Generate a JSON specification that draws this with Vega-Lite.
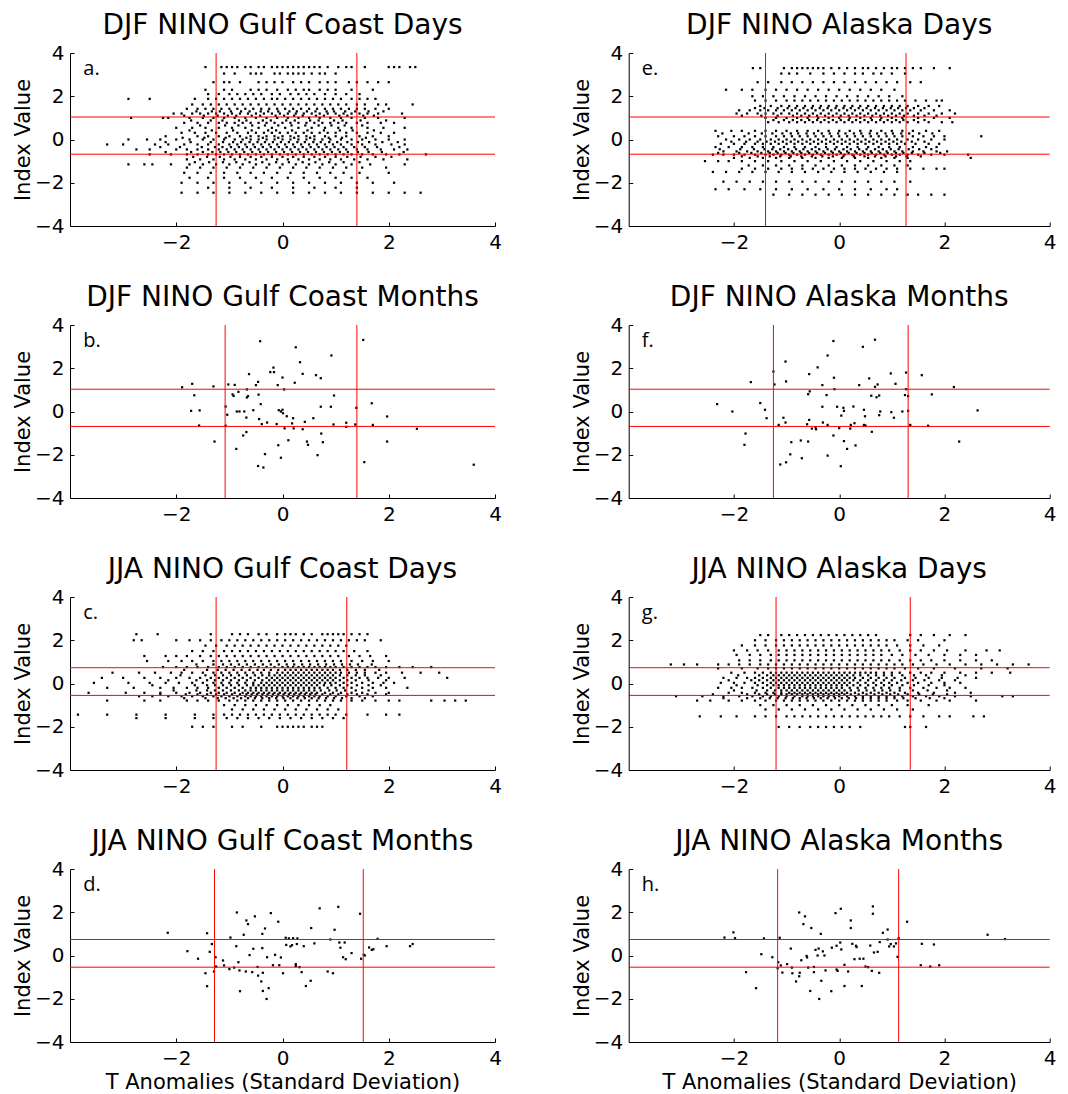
{
"$schema":"https://vega.github.io/schema/vega-lite/v6.json",
"background":"white",
"padding":{"left":12,"top":12,"right":0,"bottom":0},
"bounds":"flush",
"columns":2,
"spacing":{"row":99,"column":133.7},
"config":{
"view":{"stroke":null},
"title":{"font":"DejaVu Sans","fontSize":28,"fontWeight":"normal","color":"#000","baseline":"alphabetic","offset":3,"frame":"group","anchor":"middle"},
"axis":{"labelFont":"DejaVu Sans","labelFontSize":20,"labelColor":"#000","titleFont":"DejaVu Sans","titleFontWeight":"normal","titleColor":"#000","domainColor":"#000","domainWidth":1,"tickColor":"#000","tickSize":-4,"grid":false,"labelFlush":false,"labelOverlap":false},
"axisX":{"labelPadding":10,"titleFontSize":21,"titlePadding":3},
"axisY":{"labelPadding":10,"titleFontSize":21,"titlePadding":1},
"square":{"size":5,"color":"#000","opacity":1},
"rule":{"color":"#ff0000","strokeWidth":1},
"text":{"font":"Open Sans","fontSize":20,"align":"left","baseline":"alphabetic","color":"#000"}
},
"datasets":{
"a":[
{"x":-1.45,"y":3.35},{"x":-1.15,"y":3.35},{"x":-1.05,"y":3.35},{"x":-0.95,"y":3.35},{"x":-0.85,"y":3.35},{"x":-0.7,"y":3.35},{"x":-0.6,"y":3.35},{"x":-0.45,"y":3.35},{"x":-0.35,"y":3.35},{"x":-0.2,"y":3.35},{"x":-0.1,"y":3.35},{"x":0.0,"y":3.35},{"x":0.1,"y":3.35},{"x":0.2,"y":3.35},{"x":0.3,"y":3.35},{"x":0.4,"y":3.35},{"x":0.5,"y":3.35},{"x":0.6,"y":3.35},{"x":0.7,"y":3.35},{"x":0.85,"y":3.35},{"x":1.05,"y":3.35},{"x":1.2,"y":3.35},{"x":1.3,"y":3.35},{"x":1.55,"y":3.35},{"x":2.0,"y":3.35},{"x":2.1,"y":3.35},{"x":2.2,"y":3.35},{"x":2.4,"y":3.35},{"x":2.5,"y":3.35},
{"x":-1.1,"y":3.05},{"x":-0.9,"y":3.05},{"x":-0.6,"y":3.05},{"x":-0.5,"y":3.05},{"x":-0.4,"y":3.05},{"x":-0.15,"y":3.05},{"x":-0.05,"y":3.05},{"x":0.1,"y":3.05},{"x":0.2,"y":3.05},{"x":0.3,"y":3.05},{"x":0.4,"y":3.05},{"x":0.55,"y":3.05},{"x":0.7,"y":3.05},{"x":0.8,"y":3.05},{"x":1.0,"y":3.05},
{"x":-1.3,"y":2.65},{"x":-1.1,"y":2.65},{"x":-1.0,"y":2.65},{"x":-0.8,"y":2.65},{"x":-0.45,"y":2.65},{"x":-0.3,"y":2.65},{"x":-0.15,"y":2.65},{"x":0.0,"y":2.65},{"x":0.2,"y":2.65},{"x":0.35,"y":2.65},{"x":0.5,"y":2.65},{"x":0.7,"y":2.65},{"x":0.85,"y":2.65},{"x":1.0,"y":2.65},{"x":1.25,"y":2.65},{"x":1.4,"y":2.65},{"x":1.6,"y":2.65},{"x":1.8,"y":2.65},{"x":2.0,"y":2.65},
{"x":-1.45,"y":2.3},{"x":-1.1,"y":2.3},{"x":-0.95,"y":2.3},{"x":-0.6,"y":2.3},{"x":-0.45,"y":2.3},{"x":-0.3,"y":2.3},{"x":-0.1,"y":2.3},{"x":0.1,"y":2.3},{"x":0.25,"y":2.3},{"x":0.4,"y":2.3},{"x":0.5,"y":2.3},{"x":0.7,"y":2.3},{"x":0.85,"y":2.3},{"x":1.0,"y":2.3},{"x":1.3,"y":2.3},{"x":1.7,"y":2.3},
{"x":-1.4,"y":2.1},{"x":-1.2,"y":2.1},{"x":-1.0,"y":2.1},{"x":-0.85,"y":2.1},{"x":-0.7,"y":2.1},{"x":-0.55,"y":2.1},{"x":-0.4,"y":2.1},{"x":-0.2,"y":2.1},{"x":-0.05,"y":2.1},{"x":0.15,"y":2.1},{"x":0.3,"y":2.1},{"x":0.45,"y":2.1},{"x":0.6,"y":2.1},{"x":0.8,"y":2.1},{"x":1.0,"y":2.1},{"x":1.2,"y":2.1},{"x":1.45,"y":2.1},
{"x":-2.9,"y":1.88},{"x":-2.5,"y":1.88},{"x":-1.65,"y":1.88},{"x":-1.4,"y":1.88},{"x":-1.25,"y":1.88},{"x":-1.1,"y":1.88},{"x":-0.95,"y":1.88},{"x":-0.8,"y":1.88},{"x":-0.65,"y":1.88},{"x":-0.5,"y":1.88},{"x":-0.35,"y":1.88},{"x":-0.2,"y":1.88},{"x":-0.1,"y":1.88},{"x":0.05,"y":1.88},{"x":0.2,"y":1.88},{"x":0.35,"y":1.88},{"x":0.5,"y":1.88},{"x":0.65,"y":1.88},{"x":0.8,"y":1.88},{"x":0.95,"y":1.88},{"x":1.1,"y":1.88},{"x":1.3,"y":1.88},{"x":1.45,"y":1.88},{"x":1.6,"y":1.88},{"x":1.75,"y":1.88},
{"x":-1.7,"y":1.62},{"x":-1.5,"y":1.62},{"x":-1.35,"y":1.62},{"x":-1.2,"y":1.62},{"x":-1.05,"y":1.62},{"x":-0.9,"y":1.62},{"x":-0.75,"y":1.62},{"x":-0.6,"y":1.62},{"x":-0.45,"y":1.62},{"x":-0.3,"y":1.62},{"x":-0.15,"y":1.62},{"x":0.0,"y":1.62},{"x":0.15,"y":1.62},{"x":0.3,"y":1.62},{"x":0.45,"y":1.62},{"x":0.6,"y":1.62},{"x":0.75,"y":1.62},{"x":0.9,"y":1.62},{"x":1.05,"y":1.62},{"x":1.2,"y":1.62},{"x":1.4,"y":1.62},{"x":1.55,"y":1.62},{"x":1.8,"y":1.62},{"x":1.95,"y":1.62},{"x":2.45,"y":1.62},
{"x":-1.8,"y":1.42},{"x":-1.6,"y":1.42},{"x":-1.45,"y":1.42},{"x":-1.3,"y":1.42},{"x":-1.15,"y":1.42},{"x":-1.0,"y":1.42},{"x":-0.85,"y":1.42},{"x":-0.7,"y":1.42},{"x":-0.55,"y":1.42},{"x":-0.4,"y":1.42},{"x":-0.25,"y":1.42},{"x":-0.1,"y":1.42},{"x":0.05,"y":1.42},{"x":0.2,"y":1.42},{"x":0.35,"y":1.42},{"x":0.5,"y":1.42},{"x":0.65,"y":1.42},{"x":0.8,"y":1.42},{"x":0.95,"y":1.42},{"x":1.1,"y":1.42},{"x":1.25,"y":1.42},{"x":1.4,"y":1.42},{"x":1.55,"y":1.42},{"x":1.75,"y":1.42},{"x":2.0,"y":1.42},
{"x":-2.05,"y":1.2},{"x":-1.9,"y":1.2},{"x":-1.7,"y":1.2},{"x":-1.55,"y":1.2},{"x":-1.4,"y":1.2},{"x":-1.25,"y":1.2},{"x":-1.1,"y":1.2},{"x":-0.95,"y":1.2},{"x":-0.8,"y":1.2},{"x":-0.65,"y":1.2},{"x":-0.5,"y":1.2},{"x":-0.35,"y":1.2},{"x":-0.2,"y":1.2},{"x":-0.05,"y":1.2},{"x":0.1,"y":1.2},{"x":0.25,"y":1.2},{"x":0.4,"y":1.2},{"x":0.55,"y":1.2},{"x":0.7,"y":1.2},{"x":0.85,"y":1.2},{"x":1.0,"y":1.2},{"x":1.15,"y":1.2},{"x":1.3,"y":1.2},{"x":1.45,"y":1.2},{"x":1.6,"y":1.2},{"x":1.8,"y":1.2},{"x":2.25,"y":1.2},
{"x":-2.85,"y":1.0},{"x":-2.25,"y":1.0},{"x":-2.15,"y":1.0},{"x":-1.75,"y":1.0},{"x":-1.5,"y":1.0},{"x":-1.3,"y":1.0},{"x":-1.1,"y":1.0},{"x":-0.9,"y":1.0},{"x":-0.7,"y":1.0},{"x":-0.5,"y":1.0},{"x":-0.3,"y":1.0},{"x":-0.1,"y":1.0},{"x":0.1,"y":1.0},{"x":0.3,"y":1.0},{"x":0.5,"y":1.0},{"x":0.7,"y":1.0},{"x":0.9,"y":1.0},{"x":1.1,"y":1.0},{"x":1.3,"y":1.0},{"x":1.55,"y":1.0},{"x":1.8,"y":1.0},{"x":2.3,"y":1.0},
{"x":-1.85,"y":0.77},{"x":-1.6,"y":0.77},{"x":-1.4,"y":0.77},{"x":-1.2,"y":0.77},{"x":-1.05,"y":0.77},{"x":-0.9,"y":0.77},{"x":-0.75,"y":0.77},{"x":-0.6,"y":0.77},{"x":-0.45,"y":0.77},{"x":-0.3,"y":0.77},{"x":-0.15,"y":0.77},{"x":0.0,"y":0.77},{"x":0.15,"y":0.77},{"x":0.3,"y":0.77},{"x":0.45,"y":0.77},{"x":0.6,"y":0.77},{"x":0.75,"y":0.77},{"x":0.9,"y":0.77},{"x":1.05,"y":0.77},{"x":1.2,"y":0.77},{"x":1.4,"y":0.77},{"x":1.6,"y":0.77},{"x":1.85,"y":0.77},{"x":2.1,"y":0.77},
{"x":-2.0,"y":0.54},{"x":-1.7,"y":0.54},{"x":-1.45,"y":0.54},{"x":-1.2,"y":0.54},{"x":-0.95,"y":0.54},{"x":-0.7,"y":0.54},{"x":-0.45,"y":0.54},{"x":-0.2,"y":0.54},{"x":0.05,"y":0.54},{"x":0.3,"y":0.54},{"x":0.55,"y":0.54},{"x":0.8,"y":0.54},{"x":1.05,"y":0.54},{"x":1.3,"y":0.54},{"x":1.6,"y":0.54},{"x":1.9,"y":0.54},{"x":2.3,"y":0.54},
{"x":-1.9,"y":0.31},{"x":-1.65,"y":0.31},{"x":-1.45,"y":0.31},{"x":-1.25,"y":0.31},{"x":-1.05,"y":0.31},{"x":-0.85,"y":0.31},{"x":-0.65,"y":0.31},{"x":-0.5,"y":0.31},{"x":-0.35,"y":0.31},{"x":-0.2,"y":0.31},{"x":-0.05,"y":0.31},{"x":0.1,"y":0.31},{"x":0.25,"y":0.31},{"x":0.4,"y":0.31},{"x":0.55,"y":0.31},{"x":0.7,"y":0.31},{"x":0.85,"y":0.31},{"x":1.0,"y":0.31},{"x":1.2,"y":0.31},{"x":1.4,"y":0.31},{"x":1.6,"y":0.31},{"x":1.85,"y":0.31},{"x":2.1,"y":0.31},
{"x":-2.2,"y":0.15},{"x":-1.6,"y":0.15},{"x":-1.4,"y":0.15},{"x":-1.2,"y":0.15},{"x":-1.0,"y":0.15},{"x":-0.8,"y":0.15},{"x":-0.6,"y":0.15},{"x":-0.45,"y":0.15},{"x":-0.3,"y":0.15},{"x":-0.15,"y":0.15},{"x":0.0,"y":0.15},{"x":0.15,"y":0.15},{"x":0.3,"y":0.15},{"x":0.45,"y":0.15},{"x":0.6,"y":0.15},{"x":0.8,"y":0.15},{"x":1.0,"y":0.15},{"x":1.2,"y":0.15},{"x":1.45,"y":0.15},{"x":1.7,"y":0.15},{"x":2.0,"y":0.15},
{"x":-2.9,"y":0.0},{"x":-2.55,"y":0.0},{"x":-2.3,"y":0.0},{"x":-2.0,"y":0.0},{"x":-1.75,"y":0.0},{"x":-1.5,"y":0.0},{"x":-1.3,"y":0.0},{"x":-1.1,"y":0.0},{"x":-0.9,"y":0.0},{"x":-0.75,"y":0.0},{"x":-0.6,"y":0.0},{"x":-0.45,"y":0.0},{"x":-0.3,"y":0.0},{"x":-0.15,"y":0.0},{"x":0.0,"y":0.0},{"x":0.15,"y":0.0},{"x":0.3,"y":0.0},{"x":0.45,"y":0.0},{"x":0.6,"y":0.0},{"x":0.75,"y":0.0},{"x":0.9,"y":0.0},{"x":1.1,"y":0.0},{"x":1.3,"y":0.0},{"x":1.5,"y":0.0},{"x":1.75,"y":0.0},{"x":2.0,"y":0.0},{"x":2.3,"y":0.0},
{"x":-3.3,"y":-0.23},{"x":-3.0,"y":-0.23},{"x":-2.4,"y":-0.23},{"x":-2.15,"y":-0.23},{"x":-1.85,"y":-0.23},{"x":-1.6,"y":-0.23},{"x":-1.4,"y":-0.23},{"x":-1.2,"y":-0.23},{"x":-1.0,"y":-0.23},{"x":-0.85,"y":-0.23},{"x":-0.7,"y":-0.23},{"x":-0.55,"y":-0.23},{"x":-0.4,"y":-0.23},{"x":-0.25,"y":-0.23},{"x":-0.1,"y":-0.23},{"x":0.05,"y":-0.23},{"x":0.2,"y":-0.23},{"x":0.35,"y":-0.23},{"x":0.5,"y":-0.23},{"x":0.65,"y":-0.23},{"x":0.8,"y":-0.23},{"x":0.95,"y":-0.23},{"x":1.1,"y":-0.23},{"x":1.3,"y":-0.23},{"x":1.5,"y":-0.23},{"x":1.75,"y":-0.23},{"x":2.05,"y":-0.23},{"x":2.3,"y":-0.23},
{"x":-2.75,"y":-0.46},{"x":-2.5,"y":-0.46},{"x":-2.0,"y":-0.46},{"x":-1.8,"y":-0.46},{"x":-1.6,"y":-0.46},{"x":-1.4,"y":-0.46},{"x":-1.2,"y":-0.46},{"x":-1.05,"y":-0.46},{"x":-0.9,"y":-0.46},{"x":-0.75,"y":-0.46},{"x":-0.6,"y":-0.46},{"x":-0.45,"y":-0.46},{"x":-0.3,"y":-0.46},{"x":-0.15,"y":-0.46},{"x":0.0,"y":-0.46},{"x":0.15,"y":-0.46},{"x":0.3,"y":-0.46},{"x":0.45,"y":-0.46},{"x":0.6,"y":-0.46},{"x":0.75,"y":-0.46},{"x":0.9,"y":-0.46},{"x":1.05,"y":-0.46},{"x":1.2,"y":-0.46},{"x":1.4,"y":-0.46},{"x":1.6,"y":-0.46},{"x":1.85,"y":-0.46},{"x":2.1,"y":-0.46},{"x":2.35,"y":-0.46},
{"x":-2.5,"y":-0.69},{"x":-2.1,"y":-0.69},{"x":-1.8,"y":-0.69},{"x":-1.6,"y":-0.69},{"x":-1.4,"y":-0.69},{"x":-1.25,"y":-0.69},{"x":-1.1,"y":-0.69},{"x":-0.95,"y":-0.69},{"x":-0.8,"y":-0.69},{"x":-0.65,"y":-0.69},{"x":-0.5,"y":-0.69},{"x":-0.35,"y":-0.69},{"x":-0.2,"y":-0.69},{"x":-0.05,"y":-0.69},{"x":0.1,"y":-0.69},{"x":0.25,"y":-0.69},{"x":0.4,"y":-0.69},{"x":0.55,"y":-0.69},{"x":0.7,"y":-0.69},{"x":0.85,"y":-0.69},{"x":1.0,"y":-0.69},{"x":1.15,"y":-0.69},{"x":1.3,"y":-0.69},{"x":1.5,"y":-0.69},{"x":1.7,"y":-0.69},{"x":1.95,"y":-0.69},{"x":2.2,"y":-0.69},{"x":2.7,"y":-0.69},
{"x":-1.8,"y":-0.92},{"x":-1.55,"y":-0.92},{"x":-1.3,"y":-0.92},{"x":-1.1,"y":-0.92},{"x":-0.9,"y":-0.92},{"x":-0.7,"y":-0.92},{"x":-0.5,"y":-0.92},{"x":-0.3,"y":-0.92},{"x":-0.1,"y":-0.92},{"x":0.1,"y":-0.92},{"x":0.3,"y":-0.92},{"x":0.5,"y":-0.92},{"x":0.7,"y":-0.92},{"x":0.9,"y":-0.92},{"x":1.1,"y":-0.92},{"x":1.35,"y":-0.92},{"x":1.6,"y":-0.92},{"x":1.9,"y":-0.92},{"x":2.35,"y":-0.92},
{"x":-2.9,"y":-1.15},{"x":-2.6,"y":-1.15},{"x":-2.45,"y":-1.15},{"x":-2.1,"y":-1.15},{"x":-1.75,"y":-1.15},{"x":-1.5,"y":-1.15},{"x":-1.25,"y":-1.15},{"x":-1.0,"y":-1.15},{"x":-0.75,"y":-1.15},{"x":-0.5,"y":-1.15},{"x":-0.25,"y":-1.15},{"x":0.0,"y":-1.15},{"x":0.25,"y":-1.15},{"x":0.5,"y":-1.15},{"x":0.75,"y":-1.15},{"x":1.0,"y":-1.15},{"x":1.3,"y":-1.15},{"x":1.65,"y":-1.15},{"x":2.3,"y":-1.15},
{"x":-1.8,"y":-1.3},{"x":-1.55,"y":-1.3},{"x":-1.3,"y":-1.3},{"x":-1.05,"y":-1.3},{"x":-0.8,"y":-1.3},{"x":-0.55,"y":-1.3},{"x":-0.3,"y":-1.3},{"x":-0.05,"y":-1.3},{"x":0.2,"y":-1.3},{"x":0.45,"y":-1.3},{"x":0.7,"y":-1.3},{"x":0.95,"y":-1.3},{"x":1.2,"y":-1.3},{"x":1.5,"y":-1.3},{"x":1.95,"y":-1.3},
{"x":-1.85,"y":-1.54},{"x":-1.6,"y":-1.54},{"x":-1.35,"y":-1.54},{"x":-1.1,"y":-1.54},{"x":-0.85,"y":-1.54},{"x":-0.6,"y":-1.54},{"x":-0.35,"y":-1.54},{"x":-0.1,"y":-1.54},{"x":0.15,"y":-1.54},{"x":0.4,"y":-1.54},{"x":0.65,"y":-1.54},{"x":0.9,"y":-1.54},{"x":1.15,"y":-1.54},{"x":1.45,"y":-1.54},{"x":2.0,"y":-1.54},
{"x":-1.75,"y":-1.77},{"x":-1.4,"y":-1.77},{"x":-1.1,"y":-1.77},{"x":-0.8,"y":-1.77},{"x":-0.5,"y":-1.77},{"x":-0.2,"y":-1.77},{"x":0.1,"y":-1.77},{"x":0.4,"y":-1.77},{"x":0.7,"y":-1.77},{"x":1.0,"y":-1.77},{"x":1.3,"y":-1.77},{"x":1.6,"y":-1.77},
{"x":-1.9,"y":-2.0},{"x":-1.6,"y":-2.0},{"x":-1.3,"y":-2.0},{"x":-1.0,"y":-2.0},{"x":-0.7,"y":-2.0},{"x":-0.4,"y":-2.0},{"x":-0.1,"y":-2.0},{"x":0.2,"y":-2.0},{"x":0.5,"y":-2.0},{"x":0.8,"y":-2.0},{"x":1.1,"y":-2.0},{"x":1.4,"y":-2.0},{"x":1.7,"y":-2.0},{"x":2.1,"y":-2.0},
{"x":-1.4,"y":-2.23},{"x":-1.0,"y":-2.23},{"x":-0.6,"y":-2.23},{"x":-0.2,"y":-2.23},{"x":0.2,"y":-2.23},{"x":0.6,"y":-2.23},{"x":1.0,"y":-2.23},{"x":1.4,"y":-2.23},
{"x":-1.9,"y":-2.46},{"x":-1.6,"y":-2.46},{"x":-1.3,"y":-2.46},{"x":-1.0,"y":-2.46},{"x":-0.7,"y":-2.46},{"x":-0.4,"y":-2.46},{"x":-0.1,"y":-2.46},{"x":0.2,"y":-2.46},{"x":0.5,"y":-2.46},{"x":0.8,"y":-2.46},{"x":1.1,"y":-2.46},{"x":1.4,"y":-2.46},{"x":1.7,"y":-2.46},{"x":2.0,"y":-2.46},{"x":2.3,"y":-2.46},{"x":2.6,"y":-2.46},
{"x":-1.62,"y":1.3},{"x":-1.33,"y":1.3},{"x":-1.18,"y":1.3},{"x":-0.97,"y":1.3},{"x":-0.78,"y":1.3},{"x":-0.62,"y":1.3},{"x":-0.41,"y":1.3},{"x":-0.27,"y":1.3},{"x":-0.08,"y":1.3},{"x":0.13,"y":1.3},{"x":0.27,"y":1.3},{"x":0.46,"y":1.3},{"x":0.62,"y":1.3},{"x":0.83,"y":1.3},{"x":0.97,"y":1.3},{"x":1.18,"y":1.3},{"x":1.37,"y":1.3},{"x":1.62,"y":1.3},{"x":1.9,"y":1.3},
{"x":-1.85,"y":1.1},{"x":-1.48,"y":1.1},{"x":-1.22,"y":1.1},{"x":-1.03,"y":1.1},{"x":-0.87,"y":1.1},{"x":-0.58,"y":1.1},{"x":-0.42,"y":1.1},{"x":-0.13,"y":1.1},{"x":0.03,"y":1.1},{"x":0.22,"y":1.1},{"x":0.38,"y":1.1},{"x":0.63,"y":1.1},{"x":0.78,"y":1.1},{"x":1.07,"y":1.1},{"x":1.22,"y":1.1},{"x":1.52,"y":1.1},{"x":1.72,"y":1.1},
{"x":-1.72,"y":0.88},{"x":-1.35,"y":0.88},{"x":-1.13,"y":0.88},{"x":-0.82,"y":0.88},{"x":-0.68,"y":0.88},{"x":-0.37,"y":0.88},{"x":-0.22,"y":0.88},{"x":0.07,"y":0.88},{"x":0.23,"y":0.88},{"x":0.52,"y":0.88},{"x":0.68,"y":0.88},{"x":0.97,"y":0.88},{"x":1.13,"y":0.88},{"x":1.47,"y":0.88},{"x":1.95,"y":0.88},
{"x":-1.55,"y":0.65},{"x":-1.08,"y":0.65},{"x":-0.83,"y":0.65},{"x":-0.57,"y":0.65},{"x":-0.33,"y":0.65},{"x":-0.08,"y":0.65},{"x":0.17,"y":0.65},{"x":0.43,"y":0.65},{"x":0.68,"y":0.65},{"x":0.92,"y":0.65},{"x":1.17,"y":0.65},{"x":1.5,"y":0.65},
{"x":-1.75,"y":0.42},{"x":-1.33,"y":0.42},{"x":-0.93,"y":0.42},{"x":-0.58,"y":0.42},{"x":-0.27,"y":0.42},{"x":-0.12,"y":0.42},{"x":0.18,"y":0.42},{"x":0.47,"y":0.42},{"x":0.78,"y":0.42},{"x":1.08,"y":0.42},{"x":1.32,"y":0.42},{"x":1.72,"y":0.42},
{"x":-1.88,"y":0.08},{"x":-1.47,"y":0.08},{"x":-1.07,"y":0.08},{"x":-0.68,"y":0.08},{"x":-0.37,"y":0.08},{"x":-0.08,"y":0.08},{"x":0.22,"y":0.08},{"x":0.52,"y":0.08},{"x":0.87,"y":0.08},{"x":1.12,"y":0.08},{"x":1.57,"y":0.08},
{"x":-2.2,"y":-0.12},{"x":-1.73,"y":-0.12},{"x":-1.35,"y":-0.12},{"x":-1.12,"y":-0.12},{"x":-0.93,"y":-0.12},{"x":-0.78,"y":-0.12},{"x":-0.62,"y":-0.12},{"x":-0.47,"y":-0.12},{"x":-0.33,"y":-0.12},{"x":-0.18,"y":-0.12},{"x":-0.03,"y":-0.12},{"x":0.12,"y":-0.12},{"x":0.28,"y":-0.12},{"x":0.42,"y":-0.12},{"x":0.58,"y":-0.12},{"x":0.72,"y":-0.12},{"x":0.88,"y":-0.12},{"x":1.03,"y":-0.12},{"x":1.22,"y":-0.12},{"x":1.42,"y":-0.12},{"x":1.63,"y":-0.12},{"x":1.88,"y":-0.12},{"x":2.17,"y":-0.12},
{"x":-2.3,"y":-0.35},{"x":-1.93,"y":-0.35},{"x":-1.52,"y":-0.35},{"x":-1.27,"y":-0.35},{"x":-1.13,"y":-0.35},{"x":-0.97,"y":-0.35},{"x":-0.82,"y":-0.35},{"x":-0.67,"y":-0.35},{"x":-0.52,"y":-0.35},{"x":-0.37,"y":-0.35},{"x":-0.22,"y":-0.35},{"x":-0.07,"y":-0.35},{"x":0.08,"y":-0.35},{"x":0.23,"y":-0.35},{"x":0.38,"y":-0.35},{"x":0.53,"y":-0.35},{"x":0.68,"y":-0.35},{"x":0.83,"y":-0.35},{"x":0.98,"y":-0.35},{"x":1.15,"y":-0.35},{"x":1.35,"y":-0.35},{"x":1.55,"y":-0.35},{"x":1.78,"y":-0.35},{"x":2.2,"y":-0.35},
{"x":-2.2,"y":-0.58},{"x":-1.72,"y":-0.58},{"x":-1.5,"y":-0.58},{"x":-1.32,"y":-0.58},{"x":-1.17,"y":-0.58},{"x":-1.02,"y":-0.58},{"x":-0.87,"y":-0.58},{"x":-0.72,"y":-0.58},{"x":-0.57,"y":-0.58},{"x":-0.42,"y":-0.58},{"x":-0.27,"y":-0.58},{"x":-0.12,"y":-0.58},{"x":0.03,"y":-0.58},{"x":0.18,"y":-0.58},{"x":0.33,"y":-0.58},{"x":0.48,"y":-0.58},{"x":0.63,"y":-0.58},{"x":0.78,"y":-0.58},{"x":0.93,"y":-0.58},{"x":1.08,"y":-0.58},{"x":1.23,"y":-0.58},{"x":1.42,"y":-0.58},{"x":1.62,"y":-0.58},{"x":1.87,"y":-0.58},{"x":2.28,"y":-0.58},
{"x":-1.68,"y":-0.8},{"x":-1.42,"y":-0.8},{"x":-1.18,"y":-0.8},{"x":-0.98,"y":-0.8},{"x":-0.8,"y":-0.8},{"x":-0.6,"y":-0.8},{"x":-0.4,"y":-0.8},{"x":-0.2,"y":-0.8},{"x":0.0,"y":-0.8},{"x":0.2,"y":-0.8},{"x":0.4,"y":-0.8},{"x":0.6,"y":-0.8},{"x":0.8,"y":-0.8},{"x":1.0,"y":-0.8},{"x":1.22,"y":-0.8},{"x":1.47,"y":-0.8},{"x":1.75,"y":-0.8},{"x":2.05,"y":-0.8},
{"x":-1.65,"y":-1.05},{"x":-1.38,"y":-1.05},{"x":-1.12,"y":-1.05},{"x":-0.87,"y":-1.05},{"x":-0.62,"y":-1.05},{"x":-0.38,"y":-1.05},{"x":-0.12,"y":-1.05},{"x":0.12,"y":-1.05},{"x":0.38,"y":-1.05},{"x":0.62,"y":-1.05},{"x":0.88,"y":-1.05},{"x":1.15,"y":-1.05},{"x":1.45,"y":-1.05}
],
"e":[
{"x":-1.64,"y":3.3},{"x":-1.5,"y":3.3},{"x":-1.05,"y":3.3},{"x":-0.9,"y":3.3},{"x":-0.8,"y":3.3},{"x":-0.7,"y":3.3},{"x":-0.6,"y":3.3},{"x":-0.5,"y":3.3},{"x":-0.4,"y":3.3},{"x":-0.3,"y":3.3},{"x":-0.15,"y":3.3},{"x":0.0,"y":3.3},{"x":0.15,"y":3.3},{"x":0.3,"y":3.3},{"x":0.45,"y":3.3},{"x":0.55,"y":3.3},{"x":0.7,"y":3.3},{"x":0.85,"y":3.3},{"x":1.0,"y":3.3},{"x":1.1,"y":3.3},{"x":1.25,"y":3.3},{"x":1.4,"y":3.3},{"x":1.55,"y":3.3},{"x":1.8,"y":3.3},{"x":2.1,"y":3.3},
{"x":-1.1,"y":3.05},{"x":-0.95,"y":3.05},{"x":-0.8,"y":3.05},{"x":-0.55,"y":3.05},{"x":-0.3,"y":3.05},{"x":-0.1,"y":3.05},{"x":0.1,"y":3.05},{"x":0.3,"y":3.05},{"x":0.45,"y":3.05},{"x":0.65,"y":3.05},{"x":0.8,"y":3.05},{"x":1.0,"y":3.05},{"x":1.25,"y":3.05},
{"x":-1.55,"y":2.65},{"x":-1.35,"y":2.65},{"x":-1.1,"y":2.65},{"x":-0.9,"y":2.65},{"x":-0.7,"y":2.65},{"x":-0.5,"y":2.65},{"x":-0.3,"y":2.65},{"x":-0.1,"y":2.65},{"x":0.1,"y":2.65},{"x":0.3,"y":2.65},{"x":0.5,"y":2.65},{"x":0.7,"y":2.65},{"x":0.9,"y":2.65},{"x":1.1,"y":2.65},{"x":1.35,"y":2.65},{"x":1.55,"y":2.65},
{"x":-2.15,"y":2.3},{"x":-1.85,"y":2.3},{"x":-1.65,"y":2.3},{"x":-1.4,"y":2.3},{"x":-1.2,"y":2.3},{"x":-1.0,"y":2.3},{"x":-0.8,"y":2.3},{"x":-0.6,"y":2.3},{"x":-0.4,"y":2.3},{"x":-0.2,"y":2.3},{"x":0.0,"y":2.3},{"x":0.2,"y":2.3},{"x":0.4,"y":2.3},{"x":0.6,"y":2.3},{"x":0.8,"y":2.3},{"x":1.05,"y":2.3},
{"x":-1.65,"y":2.0},{"x":-1.45,"y":2.0},{"x":-1.25,"y":2.0},{"x":-1.05,"y":2.0},{"x":-0.85,"y":2.0},{"x":-0.65,"y":2.0},{"x":-0.45,"y":2.0},{"x":-0.25,"y":2.0},{"x":-0.05,"y":2.0},{"x":0.15,"y":2.0},{"x":0.35,"y":2.0},{"x":0.55,"y":2.0},{"x":0.75,"y":2.0},{"x":0.95,"y":2.0},{"x":1.2,"y":2.0},
{"x":-1.6,"y":1.8},{"x":-1.4,"y":1.8},{"x":-1.2,"y":1.8},{"x":-1.0,"y":1.8},{"x":-0.85,"y":1.8},{"x":-0.7,"y":1.8},{"x":-0.55,"y":1.8},{"x":-0.4,"y":1.8},{"x":-0.25,"y":1.8},{"x":-0.1,"y":1.8},{"x":0.05,"y":1.8},{"x":0.2,"y":1.8},{"x":0.35,"y":1.8},{"x":0.5,"y":1.8},{"x":0.65,"y":1.8},{"x":0.8,"y":1.8},{"x":0.95,"y":1.8},{"x":1.1,"y":1.8},{"x":1.25,"y":1.8},{"x":1.45,"y":1.8},{"x":1.65,"y":1.8},{"x":1.85,"y":1.8},{"x":1.95,"y":1.8},
{"x":-1.5,"y":1.55},{"x":-1.3,"y":1.55},{"x":-1.1,"y":1.55},{"x":-0.95,"y":1.55},{"x":-0.8,"y":1.55},{"x":-0.65,"y":1.55},{"x":-0.5,"y":1.55},{"x":-0.35,"y":1.55},{"x":-0.2,"y":1.55},{"x":-0.05,"y":1.55},{"x":0.1,"y":1.55},{"x":0.25,"y":1.55},{"x":0.4,"y":1.55},{"x":0.55,"y":1.55},{"x":0.7,"y":1.55},{"x":0.85,"y":1.55},{"x":1.0,"y":1.55},{"x":1.15,"y":1.55},{"x":1.3,"y":1.55},{"x":1.5,"y":1.55},{"x":1.7,"y":1.55},{"x":1.9,"y":1.55},
{"x":-1.9,"y":1.35},{"x":-1.7,"y":1.35},{"x":-1.5,"y":1.35},{"x":-1.35,"y":1.35},{"x":-1.2,"y":1.35},{"x":-1.05,"y":1.35},{"x":-0.9,"y":1.35},{"x":-0.75,"y":1.35},{"x":-0.6,"y":1.35},{"x":-0.45,"y":1.35},{"x":-0.3,"y":1.35},{"x":-0.15,"y":1.35},{"x":0.0,"y":1.35},{"x":0.15,"y":1.35},{"x":0.3,"y":1.35},{"x":0.45,"y":1.35},{"x":0.6,"y":1.35},{"x":0.75,"y":1.35},{"x":0.9,"y":1.35},{"x":1.05,"y":1.35},{"x":1.2,"y":1.35},{"x":1.35,"y":1.35},{"x":1.55,"y":1.35},{"x":1.8,"y":1.35},{"x":2.1,"y":1.35},
{"x":-1.95,"y":1.2},{"x":-1.75,"y":1.2},{"x":-1.55,"y":1.2},{"x":-1.4,"y":1.2},{"x":-1.25,"y":1.2},{"x":-1.1,"y":1.2},{"x":-0.95,"y":1.2},{"x":-0.8,"y":1.2},{"x":-0.65,"y":1.2},{"x":-0.5,"y":1.2},{"x":-0.35,"y":1.2},{"x":-0.2,"y":1.2},{"x":-0.05,"y":1.2},{"x":0.1,"y":1.2},{"x":0.25,"y":1.2},{"x":0.4,"y":1.2},{"x":0.55,"y":1.2},{"x":0.7,"y":1.2},{"x":0.85,"y":1.2},{"x":1.0,"y":1.2},{"x":1.15,"y":1.2},{"x":1.3,"y":1.2},{"x":1.5,"y":1.2},{"x":1.7,"y":1.2},{"x":1.95,"y":1.2},{"x":2.2,"y":1.2},
{"x":-1.4,"y":1.0},{"x":-1.2,"y":1.0},{"x":-1.0,"y":1.0},{"x":-0.8,"y":1.0},{"x":-0.6,"y":1.0},{"x":-0.4,"y":1.0},{"x":-0.2,"y":1.0},{"x":0.0,"y":1.0},{"x":0.2,"y":1.0},{"x":0.4,"y":1.0},{"x":0.6,"y":1.0},{"x":0.8,"y":1.0},{"x":1.0,"y":1.0},{"x":1.2,"y":1.0},{"x":1.5,"y":1.0},{"x":1.8,"y":1.0},{"x":2.1,"y":1.0},
{"x":-1.35,"y":0.8},{"x":-1.15,"y":0.8},{"x":-0.95,"y":0.8},{"x":-0.8,"y":0.8},{"x":-0.65,"y":0.8},{"x":-0.5,"y":0.8},{"x":-0.35,"y":0.8},{"x":-0.2,"y":0.8},{"x":-0.05,"y":0.8},{"x":0.1,"y":0.8},{"x":0.25,"y":0.8},{"x":0.4,"y":0.8},{"x":0.55,"y":0.8},{"x":0.7,"y":0.8},{"x":0.85,"y":0.8},{"x":1.0,"y":0.8},{"x":1.15,"y":0.8},{"x":1.3,"y":0.8},{"x":1.5,"y":0.8},{"x":1.7,"y":0.8},{"x":1.95,"y":0.8},{"x":2.15,"y":0.8},
{"x":-2.35,"y":0.4},{"x":-2.05,"y":0.4},{"x":-1.85,"y":0.4},{"x":-1.6,"y":0.4},{"x":-1.4,"y":0.4},{"x":-1.2,"y":0.4},{"x":-1.0,"y":0.4},{"x":-0.8,"y":0.4},{"x":-0.6,"y":0.4},{"x":-0.4,"y":0.4},{"x":-0.2,"y":0.4},{"x":0.0,"y":0.4},{"x":0.2,"y":0.4},{"x":0.4,"y":0.4},{"x":0.6,"y":0.4},{"x":0.8,"y":0.4},{"x":1.0,"y":0.4},{"x":1.2,"y":0.4},{"x":1.4,"y":0.4},{"x":1.65,"y":0.4},{"x":1.9,"y":0.4},
{"x":-2.3,"y":0.15},{"x":-2.0,"y":0.15},{"x":-1.8,"y":0.15},{"x":-1.6,"y":0.15},{"x":-1.4,"y":0.15},{"x":-1.2,"y":0.15},{"x":-1.05,"y":0.15},{"x":-0.9,"y":0.15},{"x":-0.75,"y":0.15},{"x":-0.6,"y":0.15},{"x":-0.45,"y":0.15},{"x":-0.3,"y":0.15},{"x":-0.15,"y":0.15},{"x":0.0,"y":0.15},{"x":0.15,"y":0.15},{"x":0.3,"y":0.15},{"x":0.45,"y":0.15},{"x":0.6,"y":0.15},{"x":0.75,"y":0.15},{"x":0.9,"y":0.15},{"x":1.05,"y":0.15},{"x":1.2,"y":0.15},{"x":1.4,"y":0.15},{"x":1.6,"y":0.15},{"x":1.8,"y":0.15},{"x":2.0,"y":0.15},{"x":2.7,"y":0.15},
{"x":-2.15,"y":0.0},{"x":-1.9,"y":0.0},{"x":-1.7,"y":0.0},{"x":-1.5,"y":0.0},{"x":-1.3,"y":0.0},{"x":-1.15,"y":0.0},{"x":-1.0,"y":0.0},{"x":-0.85,"y":0.0},{"x":-0.7,"y":0.0},{"x":-0.55,"y":0.0},{"x":-0.4,"y":0.0},{"x":-0.25,"y":0.0},{"x":-0.1,"y":0.0},{"x":0.05,"y":0.0},{"x":0.2,"y":0.0},{"x":0.35,"y":0.0},{"x":0.5,"y":0.0},{"x":0.65,"y":0.0},{"x":0.8,"y":0.0},{"x":0.95,"y":0.0},{"x":1.1,"y":0.0},{"x":1.3,"y":0.0},{"x":1.5,"y":0.0},{"x":1.75,"y":0.0},{"x":2.0,"y":0.0},
{"x":-2.25,"y":-0.2},{"x":-2.0,"y":-0.2},{"x":-1.8,"y":-0.2},{"x":-1.6,"y":-0.2},{"x":-1.45,"y":-0.2},{"x":-1.3,"y":-0.2},{"x":-1.15,"y":-0.2},{"x":-1.0,"y":-0.2},{"x":-0.85,"y":-0.2},{"x":-0.7,"y":-0.2},{"x":-0.55,"y":-0.2},{"x":-0.4,"y":-0.2},{"x":-0.25,"y":-0.2},{"x":-0.1,"y":-0.2},{"x":0.05,"y":-0.2},{"x":0.2,"y":-0.2},{"x":0.35,"y":-0.2},{"x":0.5,"y":-0.2},{"x":0.65,"y":-0.2},{"x":0.8,"y":-0.2},{"x":0.95,"y":-0.2},{"x":1.1,"y":-0.2},{"x":1.25,"y":-0.2},{"x":1.45,"y":-0.2},{"x":1.7,"y":-0.2},{"x":1.9,"y":-0.2},
{"x":-2.35,"y":-0.35},{"x":-2.1,"y":-0.35},{"x":-1.85,"y":-0.35},{"x":-1.65,"y":-0.35},{"x":-1.45,"y":-0.35},{"x":-1.25,"y":-0.35},{"x":-1.05,"y":-0.35},{"x":-0.85,"y":-0.35},{"x":-0.65,"y":-0.35},{"x":-0.45,"y":-0.35},{"x":-0.25,"y":-0.35},{"x":-0.05,"y":-0.35},{"x":0.15,"y":-0.35},{"x":0.35,"y":-0.35},{"x":0.55,"y":-0.35},{"x":0.75,"y":-0.35},{"x":0.95,"y":-0.35},{"x":1.15,"y":-0.35},{"x":1.4,"y":-0.35},{"x":1.65,"y":-0.35},{"x":1.85,"y":-0.35},
{"x":-2.2,"y":-0.55},{"x":-1.95,"y":-0.55},{"x":-1.75,"y":-0.55},{"x":-1.55,"y":-0.55},{"x":-1.35,"y":-0.55},{"x":-1.2,"y":-0.55},{"x":-1.05,"y":-0.55},{"x":-0.9,"y":-0.55},{"x":-0.75,"y":-0.55},{"x":-0.6,"y":-0.55},{"x":-0.45,"y":-0.55},{"x":-0.3,"y":-0.55},{"x":-0.15,"y":-0.55},{"x":0.0,"y":-0.55},{"x":0.15,"y":-0.55},{"x":0.3,"y":-0.55},{"x":0.45,"y":-0.55},{"x":0.6,"y":-0.55},{"x":0.75,"y":-0.55},{"x":0.9,"y":-0.55},{"x":1.05,"y":-0.55},{"x":1.2,"y":-0.55},{"x":1.4,"y":-0.55},{"x":1.6,"y":-0.55},{"x":1.85,"y":-0.55},{"x":2.05,"y":-0.55},
{"x":-2.4,"y":-0.7},{"x":-2.2,"y":-0.7},{"x":-2.0,"y":-0.7},{"x":-1.8,"y":-0.7},{"x":-1.6,"y":-0.7},{"x":-1.4,"y":-0.7},{"x":-1.25,"y":-0.7},{"x":-1.1,"y":-0.7},{"x":-0.95,"y":-0.7},{"x":-0.8,"y":-0.7},{"x":-0.65,"y":-0.7},{"x":-0.5,"y":-0.7},{"x":-0.35,"y":-0.7},{"x":-0.2,"y":-0.7},{"x":-0.05,"y":-0.7},{"x":0.1,"y":-0.7},{"x":0.25,"y":-0.7},{"x":0.4,"y":-0.7},{"x":0.55,"y":-0.7},{"x":0.7,"y":-0.7},{"x":0.85,"y":-0.7},{"x":1.0,"y":-0.7},{"x":1.15,"y":-0.7},{"x":1.3,"y":-0.7},{"x":1.5,"y":-0.7},{"x":1.75,"y":-0.7},{"x":2.0,"y":-0.7},{"x":2.45,"y":-0.7},
{"x":-2.0,"y":-0.85},{"x":-1.7,"y":-0.85},{"x":-1.45,"y":-0.85},{"x":-1.2,"y":-0.85},{"x":-0.95,"y":-0.85},{"x":-0.7,"y":-0.85},{"x":-0.45,"y":-0.85},{"x":-0.2,"y":-0.85},{"x":0.05,"y":-0.85},{"x":0.3,"y":-0.85},{"x":0.55,"y":-0.85},{"x":0.8,"y":-0.85},{"x":1.05,"y":-0.85},{"x":1.3,"y":-0.85},{"x":2.5,"y":-0.85},
{"x":-2.55,"y":-1.0},{"x":-2.3,"y":-1.0},{"x":-2.1,"y":-1.0},{"x":-1.85,"y":-1.0},{"x":-1.6,"y":-1.0},{"x":-1.35,"y":-1.0},{"x":-1.1,"y":-1.0},{"x":-0.85,"y":-1.0},{"x":-0.6,"y":-1.0},{"x":-0.35,"y":-1.0},{"x":-0.1,"y":-1.0},{"x":0.15,"y":-1.0},{"x":0.4,"y":-1.0},{"x":0.65,"y":-1.0},{"x":0.9,"y":-1.0},{"x":1.15,"y":-1.0},{"x":1.35,"y":-1.0},
{"x":-1.85,"y":-1.35},{"x":-1.6,"y":-1.35},{"x":-1.35,"y":-1.35},{"x":-1.1,"y":-1.35},{"x":-0.9,"y":-1.35},{"x":-0.7,"y":-1.35},{"x":-0.5,"y":-1.35},{"x":-0.3,"y":-1.35},{"x":-0.1,"y":-1.35},{"x":0.1,"y":-1.35},{"x":0.3,"y":-1.35},{"x":0.5,"y":-1.35},{"x":0.7,"y":-1.35},{"x":0.9,"y":-1.35},{"x":1.1,"y":-1.35},{"x":1.35,"y":-1.35},{"x":1.6,"y":-1.35},{"x":1.85,"y":-1.35},{"x":2.0,"y":-1.35},
{"x":-2.4,"y":-1.5},{"x":-2.15,"y":-1.5},{"x":-1.9,"y":-1.5},{"x":-1.65,"y":-1.5},{"x":-1.4,"y":-1.5},{"x":-1.15,"y":-1.5},{"x":-0.9,"y":-1.5},{"x":-0.65,"y":-1.5},{"x":-0.4,"y":-1.5},{"x":-0.15,"y":-1.5},{"x":0.1,"y":-1.5},{"x":0.35,"y":-1.5},{"x":0.6,"y":-1.5},{"x":0.85,"y":-1.5},{"x":1.1,"y":-1.5},
{"x":-2.2,"y":-1.95},{"x":-1.95,"y":-1.95},{"x":-1.7,"y":-1.95},{"x":-1.45,"y":-1.95},{"x":-1.2,"y":-1.95},{"x":-0.95,"y":-1.95},{"x":-0.7,"y":-1.95},{"x":-0.45,"y":-1.95},{"x":-0.2,"y":-1.95},{"x":0.05,"y":-1.95},{"x":0.3,"y":-1.95},{"x":0.55,"y":-1.95},{"x":0.8,"y":-1.95},{"x":1.05,"y":-1.95},{"x":1.35,"y":-1.95},
{"x":-2.35,"y":-2.3},{"x":-2.1,"y":-2.3},{"x":-1.8,"y":-2.3},{"x":-1.5,"y":-2.3},{"x":-1.2,"y":-2.3},{"x":-0.9,"y":-2.3},{"x":-0.6,"y":-2.3},{"x":-0.3,"y":-2.3},{"x":0.0,"y":-2.3},{"x":0.3,"y":-2.3},{"x":0.6,"y":-2.3},{"x":0.9,"y":-2.3},{"x":1.1,"y":-2.3},
{"x":-1.25,"y":-2.55},{"x":-0.95,"y":-2.55},{"x":-0.7,"y":-2.55},{"x":-0.45,"y":-2.55},{"x":-0.2,"y":-2.55},{"x":0.05,"y":-2.55},{"x":0.3,"y":-2.55},{"x":0.55,"y":-2.55},{"x":0.8,"y":-2.55},{"x":1.05,"y":-2.55},{"x":1.3,"y":-2.55},{"x":1.5,"y":-2.55},{"x":1.75,"y":-2.55},{"x":2.0,"y":-2.55},
{"x":-1.6,"y":1.45},{"x":-1.42,"y":1.45},{"x":-1.17,"y":1.45},{"x":-0.98,"y":1.45},{"x":-0.83,"y":1.45},{"x":-0.68,"y":1.45},{"x":-0.52,"y":1.45},{"x":-0.37,"y":1.45},{"x":-0.22,"y":1.45},{"x":-0.07,"y":1.45},{"x":0.08,"y":1.45},{"x":0.22,"y":1.45},{"x":0.37,"y":1.45},{"x":0.52,"y":1.45},{"x":0.68,"y":1.45},{"x":0.83,"y":1.45},{"x":0.98,"y":1.45},{"x":1.12,"y":1.45},{"x":1.27,"y":1.45},{"x":1.42,"y":1.45},{"x":1.62,"y":1.45},
{"x":-1.85,"y":1.1},{"x":-1.48,"y":1.1},{"x":-1.17,"y":1.1},{"x":-0.88,"y":1.1},{"x":-0.72,"y":1.1},{"x":-0.57,"y":1.1},{"x":-0.42,"y":1.1},{"x":-0.27,"y":1.1},{"x":-0.12,"y":1.1},{"x":0.03,"y":1.1},{"x":0.18,"y":1.1},{"x":0.33,"y":1.1},{"x":0.48,"y":1.1},{"x":0.63,"y":1.1},{"x":0.78,"y":1.1},{"x":0.93,"y":1.1},{"x":1.08,"y":1.1},{"x":1.23,"y":1.1},{"x":1.42,"y":1.1},{"x":1.62,"y":1.1},{"x":1.85,"y":1.1},
{"x":-1.25,"y":0.9},{"x":-1.05,"y":0.9},{"x":-0.88,"y":0.9},{"x":-0.72,"y":0.9},{"x":-0.57,"y":0.9},{"x":-0.42,"y":0.9},{"x":-0.28,"y":0.9},{"x":-0.12,"y":0.9},{"x":0.03,"y":0.9},{"x":0.18,"y":0.9},{"x":0.32,"y":0.9},{"x":0.48,"y":0.9},{"x":0.62,"y":0.9},{"x":0.78,"y":0.9},{"x":0.92,"y":0.9},{"x":1.08,"y":0.9},{"x":1.22,"y":0.9},{"x":1.42,"y":0.9},{"x":1.62,"y":0.9},
{"x":-2.22,"y":0.28},{"x":-1.72,"y":0.28},{"x":-1.47,"y":0.28},{"x":-1.27,"y":0.28},{"x":-1.08,"y":0.28},{"x":-0.92,"y":0.28},{"x":-0.78,"y":0.28},{"x":-0.62,"y":0.28},{"x":-0.48,"y":0.28},{"x":-0.33,"y":0.28},{"x":-0.18,"y":0.28},{"x":-0.02,"y":0.28},{"x":0.12,"y":0.28},{"x":0.28,"y":0.28},{"x":0.42,"y":0.28},{"x":0.58,"y":0.28},{"x":0.72,"y":0.28},{"x":0.88,"y":0.28},{"x":1.02,"y":0.28},{"x":1.18,"y":0.28},{"x":1.33,"y":0.28},{"x":1.52,"y":0.28},{"x":1.77,"y":0.28},
{"x":-2.05,"y":-0.1},{"x":-1.77,"y":-0.1},{"x":-1.55,"y":-0.1},{"x":-1.38,"y":-0.1},{"x":-1.22,"y":-0.1},{"x":-1.07,"y":-0.1},{"x":-0.92,"y":-0.1},{"x":-0.78,"y":-0.1},{"x":-0.62,"y":-0.1},{"x":-0.48,"y":-0.1},{"x":-0.33,"y":-0.1},{"x":-0.17,"y":-0.1},{"x":-0.03,"y":-0.1},{"x":0.12,"y":-0.1},{"x":0.28,"y":-0.1},{"x":0.42,"y":-0.1},{"x":0.57,"y":-0.1},{"x":0.72,"y":-0.1},{"x":0.88,"y":-0.1},{"x":1.03,"y":-0.1},{"x":1.18,"y":-0.1},{"x":1.38,"y":-0.1},{"x":1.62,"y":-0.1},
{"x":-2.27,"y":-0.45},{"x":-1.88,"y":-0.45},{"x":-1.62,"y":-0.45},{"x":-1.42,"y":-0.45},{"x":-1.27,"y":-0.45},{"x":-1.12,"y":-0.45},{"x":-0.97,"y":-0.45},{"x":-0.82,"y":-0.45},{"x":-0.68,"y":-0.45},{"x":-0.52,"y":-0.45},{"x":-0.38,"y":-0.45},{"x":-0.22,"y":-0.45},{"x":-0.08,"y":-0.45},{"x":0.08,"y":-0.45},{"x":0.22,"y":-0.45},{"x":0.38,"y":-0.45},{"x":0.52,"y":-0.45},{"x":0.68,"y":-0.45},{"x":0.83,"y":-0.45},{"x":0.98,"y":-0.45},{"x":1.13,"y":-0.45},{"x":1.32,"y":-0.45},{"x":1.52,"y":-0.45},{"x":1.75,"y":-0.45},
{"x":-2.3,"y":-0.62},{"x":-1.9,"y":-0.62},{"x":-1.67,"y":-0.62},{"x":-1.48,"y":-0.62},{"x":-1.32,"y":-0.62},{"x":-1.17,"y":-0.62},{"x":-1.02,"y":-0.62},{"x":-0.87,"y":-0.62},{"x":-0.72,"y":-0.62},{"x":-0.57,"y":-0.62},{"x":-0.42,"y":-0.62},{"x":-0.27,"y":-0.62},{"x":-0.12,"y":-0.62},{"x":0.03,"y":-0.62},{"x":0.18,"y":-0.62},{"x":0.33,"y":-0.62},{"x":0.48,"y":-0.62},{"x":0.62,"y":-0.62},{"x":0.78,"y":-0.62},{"x":0.92,"y":-0.62},{"x":1.08,"y":-0.62},{"x":1.22,"y":-0.62},{"x":1.38,"y":-0.62},{"x":1.62,"y":-0.62},{"x":1.92,"y":-0.62},
{"x":-1.85,"y":-0.78},{"x":-1.55,"y":-0.78},{"x":-1.32,"y":-0.78},{"x":-1.12,"y":-0.78},{"x":-0.92,"y":-0.78},{"x":-0.72,"y":-0.78},{"x":-0.52,"y":-0.78},{"x":-0.32,"y":-0.78},{"x":-0.12,"y":-0.78},{"x":0.08,"y":-0.78},{"x":0.28,"y":-0.78},{"x":0.48,"y":-0.78},{"x":0.68,"y":-0.78},{"x":0.88,"y":-0.78},{"x":1.08,"y":-0.78},{"x":1.28,"y":-0.78},{"x":1.55,"y":-0.78},
{"x":-1.72,"y":-1.2},{"x":-1.45,"y":-1.2},{"x":-1.2,"y":-1.2},{"x":-0.95,"y":-1.2},{"x":-0.7,"y":-1.2},{"x":-0.45,"y":-1.2},{"x":-0.2,"y":-1.2},{"x":0.05,"y":-1.2},{"x":0.3,"y":-1.2},{"x":0.55,"y":-1.2},{"x":0.8,"y":-1.2},{"x":1.05,"y":-1.2},{"x":1.3,"y":-1.2}
],
"c":[
{"x":-2.75,"y":2.28},{"x":-2.35,"y":2.28},{"x":-1.35,"y":2.28},{"x":-0.95,"y":2.28},{"x":-0.8,"y":2.28},{"x":-0.65,"y":2.28},{"x":-0.45,"y":2.28},{"x":-0.3,"y":2.28},{"x":-0.1,"y":2.28},{"x":0.05,"y":2.28},{"x":0.15,"y":2.28},{"x":0.25,"y":2.28},{"x":0.4,"y":2.28},{"x":0.55,"y":2.28},{"x":0.75,"y":2.28},{"x":0.85,"y":2.28},{"x":0.95,"y":2.28},{"x":1.05,"y":2.28},{"x":1.15,"y":2.28},{"x":1.3,"y":2.28},{"x":1.45,"y":2.28},{"x":1.6,"y":2.28},
{"x":-2.8,"y":2.0},{"x":-2.65,"y":2.0},{"x":-2.0,"y":2.0},{"x":-1.75,"y":2.0},{"x":-1.55,"y":2.0},{"x":-1.35,"y":2.0},{"x":-1.15,"y":2.0},{"x":-1.0,"y":2.0},{"x":-0.85,"y":2.0},{"x":-0.7,"y":2.0},{"x":-0.55,"y":2.0},{"x":-0.4,"y":2.0},{"x":-0.25,"y":2.0},{"x":-0.1,"y":2.0},{"x":0.05,"y":2.0},{"x":0.2,"y":2.0},{"x":0.35,"y":2.0},{"x":0.5,"y":2.0},{"x":0.65,"y":2.0},{"x":0.8,"y":2.0},{"x":0.95,"y":2.0},{"x":1.1,"y":2.0},{"x":1.25,"y":2.0},{"x":1.4,"y":2.0},{"x":1.55,"y":2.0},{"x":1.85,"y":2.0},
{"x":-1.45,"y":1.75},{"x":-1.25,"y":1.75},{"x":-1.05,"y":1.75},{"x":-0.9,"y":1.75},{"x":-0.75,"y":1.75},{"x":-0.6,"y":1.75},{"x":-0.45,"y":1.75},{"x":-0.3,"y":1.75},{"x":-0.15,"y":1.75},{"x":0.0,"y":1.75},{"x":0.15,"y":1.75},{"x":0.3,"y":1.75},{"x":0.45,"y":1.75},{"x":0.6,"y":1.75},{"x":0.75,"y":1.75},{"x":0.9,"y":1.75},{"x":1.05,"y":1.75},{"x":1.2,"y":1.75},
{"x":-1.7,"y":1.5},{"x":-1.5,"y":1.5},{"x":-1.3,"y":1.5},{"x":-1.1,"y":1.5},{"x":-0.95,"y":1.5},{"x":-0.8,"y":1.5},{"x":-0.65,"y":1.5},{"x":-0.5,"y":1.5},{"x":-0.35,"y":1.5},{"x":-0.2,"y":1.5},{"x":-0.05,"y":1.5},{"x":0.1,"y":1.5},{"x":0.25,"y":1.5},{"x":0.4,"y":1.5},{"x":0.55,"y":1.5},{"x":0.7,"y":1.5},{"x":0.85,"y":1.5},{"x":1.0,"y":1.5},{"x":1.15,"y":1.5},{"x":1.35,"y":1.5},{"x":1.6,"y":1.5},
{"x":-2.6,"y":1.27},{"x":-2.2,"y":1.27},{"x":-2.0,"y":1.27},{"x":-1.8,"y":1.27},{"x":-1.55,"y":1.27},{"x":-1.35,"y":1.27},{"x":-1.2,"y":1.27},{"x":-1.05,"y":1.27},{"x":-0.9,"y":1.27},{"x":-0.75,"y":1.27},{"x":-0.6,"y":1.27},{"x":-0.45,"y":1.27},{"x":-0.3,"y":1.27},{"x":-0.15,"y":1.27},{"x":0.0,"y":1.27},{"x":0.15,"y":1.27},{"x":0.3,"y":1.27},{"x":0.45,"y":1.27},{"x":0.6,"y":1.27},{"x":0.75,"y":1.27},{"x":0.9,"y":1.27},{"x":1.05,"y":1.27},{"x":1.25,"y":1.27},{"x":1.45,"y":1.27},{"x":1.65,"y":1.27},{"x":1.95,"y":1.27},
{"x":-2.55,"y":1.04},{"x":-2.15,"y":1.04},{"x":-1.9,"y":1.04},{"x":-1.7,"y":1.04},{"x":-1.5,"y":1.04},{"x":-1.3,"y":1.04},{"x":-1.15,"y":1.04},{"x":-1.0,"y":1.04},{"x":-0.85,"y":1.04},{"x":-0.7,"y":1.04},{"x":-0.55,"y":1.04},{"x":-0.4,"y":1.04},{"x":-0.25,"y":1.04},{"x":-0.1,"y":1.04},{"x":0.05,"y":1.04},{"x":0.2,"y":1.04},{"x":0.35,"y":1.04},{"x":0.5,"y":1.04},{"x":0.65,"y":1.04},{"x":0.8,"y":1.04},{"x":0.95,"y":1.04},{"x":1.1,"y":1.04},{"x":1.3,"y":1.04},{"x":1.5,"y":1.04},{"x":1.7,"y":1.04},{"x":2.0,"y":1.04},
{"x":-2.25,"y":0.76},{"x":-2.0,"y":0.76},{"x":-1.8,"y":0.76},{"x":-1.6,"y":0.76},{"x":-1.4,"y":0.76},{"x":-1.2,"y":0.76},{"x":-1.05,"y":0.76},{"x":-0.9,"y":0.76},{"x":-0.75,"y":0.76},{"x":-0.6,"y":0.76},{"x":-0.45,"y":0.76},{"x":-0.3,"y":0.76},{"x":-0.15,"y":0.76},{"x":0.0,"y":0.76},{"x":0.1,"y":0.76},{"x":0.2,"y":0.76},{"x":0.3,"y":0.76},{"x":0.4,"y":0.76},{"x":0.5,"y":0.76},{"x":0.6,"y":0.76},{"x":0.7,"y":0.76},{"x":0.8,"y":0.76},{"x":0.9,"y":0.76},{"x":1.0,"y":0.76},{"x":1.15,"y":0.76},{"x":1.3,"y":0.76},{"x":1.45,"y":0.76},{"x":1.6,"y":0.76},{"x":1.75,"y":0.76},{"x":1.95,"y":0.76},{"x":2.2,"y":0.76},{"x":2.45,"y":0.76},{"x":2.8,"y":0.76},
{"x":-3.2,"y":0.5},{"x":-2.7,"y":0.5},{"x":-2.4,"y":0.5},{"x":-2.1,"y":0.5},{"x":-1.9,"y":0.5},{"x":-1.7,"y":0.5},{"x":-1.5,"y":0.5},{"x":-1.3,"y":0.5},{"x":-1.15,"y":0.5},{"x":-1.0,"y":0.5},{"x":-0.85,"y":0.5},{"x":-0.7,"y":0.5},{"x":-0.55,"y":0.5},{"x":-0.4,"y":0.5},{"x":-0.25,"y":0.5},{"x":-0.1,"y":0.5},{"x":0.0,"y":0.5},{"x":0.1,"y":0.5},{"x":0.2,"y":0.5},{"x":0.3,"y":0.5},{"x":0.4,"y":0.5},{"x":0.5,"y":0.5},{"x":0.6,"y":0.5},{"x":0.7,"y":0.5},{"x":0.8,"y":0.5},{"x":0.9,"y":0.5},{"x":1.0,"y":0.5},{"x":1.1,"y":0.5},{"x":1.25,"y":0.5},{"x":1.4,"y":0.5},{"x":1.55,"y":0.5},{"x":1.75,"y":0.5},{"x":1.95,"y":0.5},{"x":2.25,"y":0.5},{"x":2.6,"y":0.5},{"x":2.95,"y":0.5},
{"x":-3.4,"y":0.26},{"x":-3.0,"y":0.26},{"x":-2.6,"y":0.26},{"x":-2.3,"y":0.26},{"x":-2.0,"y":0.26},{"x":-1.75,"y":0.26},{"x":-1.55,"y":0.26},{"x":-1.35,"y":0.26},{"x":-1.2,"y":0.26},{"x":-1.05,"y":0.26},{"x":-0.9,"y":0.26},{"x":-0.75,"y":0.26},{"x":-0.6,"y":0.26},{"x":-0.45,"y":0.26},{"x":-0.3,"y":0.26},{"x":-0.2,"y":0.26},{"x":-0.1,"y":0.26},{"x":0.0,"y":0.26},{"x":0.1,"y":0.26},{"x":0.2,"y":0.26},{"x":0.3,"y":0.26},{"x":0.4,"y":0.26},{"x":0.5,"y":0.26},{"x":0.6,"y":0.26},{"x":0.7,"y":0.26},{"x":0.8,"y":0.26},{"x":0.9,"y":0.26},{"x":1.0,"y":0.26},{"x":1.15,"y":0.26},{"x":1.3,"y":0.26},{"x":1.45,"y":0.26},{"x":1.6,"y":0.26},{"x":1.8,"y":0.26},{"x":2.0,"y":0.26},{"x":2.3,"y":0.26},{"x":3.1,"y":0.26},
{"x":-3.55,"y":0.03},{"x":-2.9,"y":0.03},{"x":-2.5,"y":0.03},{"x":-2.2,"y":0.03},{"x":-1.95,"y":0.03},{"x":-1.7,"y":0.03},{"x":-1.5,"y":0.03},{"x":-1.3,"y":0.03},{"x":-1.15,"y":0.03},{"x":-1.0,"y":0.03},{"x":-0.85,"y":0.03},{"x":-0.7,"y":0.03},{"x":-0.55,"y":0.03},{"x":-0.4,"y":0.03},{"x":-0.3,"y":0.03},{"x":-0.2,"y":0.03},{"x":-0.1,"y":0.03},{"x":0.0,"y":0.03},{"x":0.1,"y":0.03},{"x":0.2,"y":0.03},{"x":0.3,"y":0.03},{"x":0.4,"y":0.03},{"x":0.5,"y":0.03},{"x":0.6,"y":0.03},{"x":0.7,"y":0.03},{"x":0.8,"y":0.03},{"x":0.9,"y":0.03},{"x":1.0,"y":0.03},{"x":1.15,"y":0.03},{"x":1.3,"y":0.03},{"x":1.5,"y":0.03},{"x":1.7,"y":0.03},{"x":1.9,"y":0.03},{"x":2.1,"y":0.03},
{"x":-3.3,"y":-0.2},{"x":-2.8,"y":-0.2},{"x":-2.3,"y":-0.2},{"x":-2.05,"y":-0.2},{"x":-1.8,"y":-0.2},{"x":-1.6,"y":-0.2},{"x":-1.4,"y":-0.2},{"x":-1.2,"y":-0.2},{"x":-1.05,"y":-0.2},{"x":-0.9,"y":-0.2},{"x":-0.75,"y":-0.2},{"x":-0.6,"y":-0.2},{"x":-0.5,"y":-0.2},{"x":-0.4,"y":-0.2},{"x":-0.3,"y":-0.2},{"x":-0.2,"y":-0.2},{"x":-0.1,"y":-0.2},{"x":0.0,"y":-0.2},{"x":0.1,"y":-0.2},{"x":0.2,"y":-0.2},{"x":0.3,"y":-0.2},{"x":0.4,"y":-0.2},{"x":0.5,"y":-0.2},{"x":0.6,"y":-0.2},{"x":0.7,"y":-0.2},{"x":0.85,"y":-0.2},{"x":1.0,"y":-0.2},{"x":1.15,"y":-0.2},{"x":1.3,"y":-0.2},{"x":1.5,"y":-0.2},{"x":1.7,"y":-0.2},{"x":1.95,"y":-0.2},{"x":2.35,"y":-0.2},
{"x":-3.65,"y":-0.43},{"x":-2.95,"y":-0.43},{"x":-2.6,"y":-0.43},{"x":-2.3,"y":-0.43},{"x":-2.0,"y":-0.43},{"x":-1.75,"y":-0.43},{"x":-1.55,"y":-0.43},{"x":-1.35,"y":-0.43},{"x":-1.2,"y":-0.43},{"x":-1.05,"y":-0.43},{"x":-0.9,"y":-0.43},{"x":-0.75,"y":-0.43},{"x":-0.65,"y":-0.43},{"x":-0.55,"y":-0.43},{"x":-0.45,"y":-0.43},{"x":-0.35,"y":-0.43},{"x":-0.25,"y":-0.43},{"x":-0.15,"y":-0.43},{"x":-0.05,"y":-0.43},{"x":0.05,"y":-0.43},{"x":0.15,"y":-0.43},{"x":0.25,"y":-0.43},{"x":0.35,"y":-0.43},{"x":0.45,"y":-0.43},{"x":0.55,"y":-0.43},{"x":0.65,"y":-0.43},{"x":0.8,"y":-0.43},{"x":0.95,"y":-0.43},{"x":1.1,"y":-0.43},{"x":1.3,"y":-0.43},{"x":1.5,"y":-0.43},{"x":1.75,"y":-0.43},{"x":2.0,"y":-0.43},
{"x":-2.7,"y":-0.59},{"x":-2.45,"y":-0.59},{"x":-2.15,"y":-0.59},{"x":-1.9,"y":-0.59},{"x":-1.7,"y":-0.59},{"x":-1.5,"y":-0.59},{"x":-1.3,"y":-0.59},{"x":-1.15,"y":-0.59},{"x":-1.0,"y":-0.59},{"x":-0.85,"y":-0.59},{"x":-0.7,"y":-0.59},{"x":-0.6,"y":-0.59},{"x":-0.5,"y":-0.59},{"x":-0.4,"y":-0.59},{"x":-0.3,"y":-0.59},{"x":-0.2,"y":-0.59},{"x":-0.1,"y":-0.59},{"x":0.0,"y":-0.59},{"x":0.1,"y":-0.59},{"x":0.2,"y":-0.59},{"x":0.3,"y":-0.59},{"x":0.4,"y":-0.59},{"x":0.5,"y":-0.59},{"x":0.6,"y":-0.59},{"x":0.7,"y":-0.59},{"x":0.85,"y":-0.59},{"x":1.0,"y":-0.59},{"x":1.2,"y":-0.59},{"x":1.45,"y":-0.59},{"x":1.7,"y":-0.59},
{"x":-3.3,"y":-0.79},{"x":-2.6,"y":-0.79},{"x":-2.3,"y":-0.79},{"x":-1.8,"y":-0.79},{"x":-1.6,"y":-0.79},{"x":-1.4,"y":-0.79},{"x":-1.2,"y":-0.79},{"x":-1.0,"y":-0.79},{"x":-0.85,"y":-0.79},{"x":-0.7,"y":-0.79},{"x":-0.55,"y":-0.79},{"x":-0.4,"y":-0.79},{"x":-0.25,"y":-0.79},{"x":-0.1,"y":-0.79},{"x":0.05,"y":-0.79},{"x":0.2,"y":-0.79},{"x":0.35,"y":-0.79},{"x":0.5,"y":-0.79},{"x":0.65,"y":-0.79},{"x":0.8,"y":-0.79},{"x":0.95,"y":-0.79},{"x":1.1,"y":-0.79},{"x":1.3,"y":-0.79},{"x":1.5,"y":-0.79},{"x":1.75,"y":-0.79},{"x":2.0,"y":-0.79},{"x":2.2,"y":-0.79},{"x":2.8,"y":-0.79},{"x":3.05,"y":-0.79},{"x":3.25,"y":-0.79},{"x":3.45,"y":-0.79},
{"x":-0.95,"y":-1.2},{"x":-0.75,"y":-1.2},{"x":-0.55,"y":-1.2},{"x":-0.35,"y":-1.2},{"x":-0.15,"y":-1.2},{"x":0.05,"y":-1.2},{"x":0.25,"y":-1.2},{"x":0.45,"y":-1.2},{"x":0.65,"y":-1.2},{"x":0.85,"y":-1.2},{"x":1.05,"y":-1.2},
{"x":-3.85,"y":-1.44},{"x":-3.3,"y":-1.44},{"x":-2.75,"y":-1.44},{"x":-2.2,"y":-1.44},{"x":-1.65,"y":-1.44},{"x":-1.3,"y":-1.44},{"x":-1.1,"y":-1.44},{"x":-0.95,"y":-1.44},{"x":-0.8,"y":-1.44},{"x":-0.65,"y":-1.44},{"x":-0.5,"y":-1.44},{"x":-0.35,"y":-1.44},{"x":-0.2,"y":-1.44},{"x":-0.05,"y":-1.44},{"x":0.1,"y":-1.44},{"x":0.25,"y":-1.44},{"x":0.4,"y":-1.44},{"x":0.55,"y":-1.44},{"x":0.7,"y":-1.44},{"x":0.85,"y":-1.44},{"x":1.0,"y":-1.44},{"x":1.2,"y":-1.44},{"x":1.6,"y":-1.44},{"x":1.95,"y":-1.44},{"x":2.2,"y":-1.44},
{"x":-2.75,"y":-1.6},{"x":-2.2,"y":-1.6},{"x":-1.65,"y":-1.6},{"x":-1.3,"y":-1.6},{"x":-1.05,"y":-1.6},{"x":-0.85,"y":-1.6},{"x":-0.65,"y":-1.6},{"x":-0.45,"y":-1.6},{"x":-0.25,"y":-1.6},{"x":-0.05,"y":-1.6},{"x":0.15,"y":-1.6},{"x":0.35,"y":-1.6},{"x":0.55,"y":-1.6},{"x":0.75,"y":-1.6},{"x":0.95,"y":-1.6},{"x":1.15,"y":-1.6},
{"x":-1.7,"y":-2.0},{"x":-1.5,"y":-2.0},{"x":-1.3,"y":-2.0},{"x":-0.95,"y":-2.0},{"x":-0.75,"y":-2.0},{"x":-0.4,"y":-2.0},{"x":-0.1,"y":-2.0},{"x":0.0,"y":-2.0},{"x":0.1,"y":-2.0},{"x":0.2,"y":-2.0},{"x":0.3,"y":-2.0},{"x":0.4,"y":-2.0},{"x":0.55,"y":-2.0},{"x":0.65,"y":-2.0},{"x":0.75,"y":-2.0},
{"x":-1.62,"y":0.88},{"x":-1.3,"y":0.88},{"x":-1.12,"y":0.88},{"x":-0.97,"y":0.88},{"x":-0.82,"y":0.88},{"x":-0.67,"y":0.88},{"x":-0.52,"y":0.88},{"x":-0.37,"y":0.88},{"x":-0.22,"y":0.88},{"x":-0.07,"y":0.88},{"x":0.08,"y":0.88},{"x":0.22,"y":0.88},{"x":0.37,"y":0.88},{"x":0.52,"y":0.88},{"x":0.67,"y":0.88},{"x":0.82,"y":0.88},{"x":0.97,"y":0.88},{"x":1.12,"y":0.88},{"x":1.27,"y":0.88},{"x":1.42,"y":0.88},{"x":1.68,"y":0.88},
{"x":-1.85,"y":0.63},{"x":-1.42,"y":0.63},{"x":-1.22,"y":0.63},{"x":-1.07,"y":0.63},{"x":-0.92,"y":0.63},{"x":-0.77,"y":0.63},{"x":-0.62,"y":0.63},{"x":-0.47,"y":0.63},{"x":-0.35,"y":0.63},{"x":-0.22,"y":0.63},{"x":-0.08,"y":0.63},{"x":0.05,"y":0.63},{"x":0.15,"y":0.63},{"x":0.25,"y":0.63},{"x":0.35,"y":0.63},{"x":0.45,"y":0.63},{"x":0.55,"y":0.63},{"x":0.65,"y":0.63},{"x":0.75,"y":0.63},{"x":0.85,"y":0.63},{"x":0.95,"y":0.63},{"x":1.08,"y":0.63},{"x":1.22,"y":0.63},{"x":1.38,"y":0.63},{"x":1.55,"y":0.63},{"x":1.82,"y":0.63},
{"x":-1.92,"y":0.38},{"x":-1.45,"y":0.38},{"x":-1.27,"y":0.38},{"x":-1.12,"y":0.38},{"x":-0.97,"y":0.38},{"x":-0.82,"y":0.38},{"x":-0.67,"y":0.38},{"x":-0.52,"y":0.38},{"x":-0.38,"y":0.38},{"x":-0.25,"y":0.38},{"x":-0.15,"y":0.38},{"x":-0.05,"y":0.38},{"x":0.05,"y":0.38},{"x":0.15,"y":0.38},{"x":0.25,"y":0.38},{"x":0.35,"y":0.38},{"x":0.45,"y":0.38},{"x":0.55,"y":0.38},{"x":0.65,"y":0.38},{"x":0.75,"y":0.38},{"x":0.85,"y":0.38},{"x":0.95,"y":0.38},{"x":1.08,"y":0.38},{"x":1.22,"y":0.38},{"x":1.38,"y":0.38},{"x":1.55,"y":0.38},{"x":1.85,"y":0.38},
{"x":-2.15,"y":0.15},{"x":-1.62,"y":0.15},{"x":-1.42,"y":0.15},{"x":-1.27,"y":0.15},{"x":-1.12,"y":0.15},{"x":-0.97,"y":0.15},{"x":-0.82,"y":0.15},{"x":-0.67,"y":0.15},{"x":-0.52,"y":0.15},{"x":-0.38,"y":0.15},{"x":-0.25,"y":0.15},{"x":-0.15,"y":0.15},{"x":-0.05,"y":0.15},{"x":0.05,"y":0.15},{"x":0.15,"y":0.15},{"x":0.25,"y":0.15},{"x":0.35,"y":0.15},{"x":0.45,"y":0.15},{"x":0.55,"y":0.15},{"x":0.65,"y":0.15},{"x":0.75,"y":0.15},{"x":0.85,"y":0.15},{"x":0.95,"y":0.15},{"x":1.08,"y":0.15},{"x":1.22,"y":0.15},{"x":1.38,"y":0.15},{"x":1.62,"y":0.15},{"x":1.95,"y":0.15},
{"x":-2.45,"y":-0.08},{"x":-1.65,"y":-0.08},{"x":-1.42,"y":-0.08},{"x":-1.27,"y":-0.08},{"x":-1.12,"y":-0.08},{"x":-0.97,"y":-0.08},{"x":-0.82,"y":-0.08},{"x":-0.67,"y":-0.08},{"x":-0.55,"y":-0.08},{"x":-0.45,"y":-0.08},{"x":-0.35,"y":-0.08},{"x":-0.25,"y":-0.08},{"x":-0.15,"y":-0.08},{"x":-0.05,"y":-0.08},{"x":0.05,"y":-0.08},{"x":0.15,"y":-0.08},{"x":0.25,"y":-0.08},{"x":0.35,"y":-0.08},{"x":0.45,"y":-0.08},{"x":0.55,"y":-0.08},{"x":0.65,"y":-0.08},{"x":0.78,"y":-0.08},{"x":0.92,"y":-0.08},{"x":1.08,"y":-0.08},{"x":1.22,"y":-0.08},{"x":1.4,"y":-0.08},{"x":1.62,"y":-0.08},{"x":1.85,"y":-0.08},
{"x":-2.05,"y":-0.32},{"x":-1.62,"y":-0.32},{"x":-1.42,"y":-0.32},{"x":-1.27,"y":-0.32},{"x":-1.12,"y":-0.32},{"x":-0.97,"y":-0.32},{"x":-0.82,"y":-0.32},{"x":-0.7,"y":-0.32},{"x":-0.6,"y":-0.32},{"x":-0.5,"y":-0.32},{"x":-0.4,"y":-0.32},{"x":-0.3,"y":-0.32},{"x":-0.2,"y":-0.32},{"x":-0.1,"y":-0.32},{"x":0.0,"y":-0.32},{"x":0.1,"y":-0.32},{"x":0.2,"y":-0.32},{"x":0.3,"y":-0.32},{"x":0.4,"y":-0.32},{"x":0.5,"y":-0.32},{"x":0.6,"y":-0.32},{"x":0.72,"y":-0.32},{"x":0.88,"y":-0.32},{"x":1.02,"y":-0.32},{"x":1.18,"y":-0.32},{"x":1.38,"y":-0.32},{"x":1.62,"y":-0.32},
{"x":-2.3,"y":-0.5},{"x":-1.82,"y":-0.5},{"x":-1.6,"y":-0.5},{"x":-1.42,"y":-0.5},{"x":-1.25,"y":-0.5},{"x":-1.1,"y":-0.5},{"x":-0.95,"y":-0.5},{"x":-0.8,"y":-0.5},{"x":-0.68,"y":-0.5},{"x":-0.58,"y":-0.5},{"x":-0.48,"y":-0.5},{"x":-0.38,"y":-0.5},{"x":-0.28,"y":-0.5},{"x":-0.18,"y":-0.5},{"x":-0.08,"y":-0.5},{"x":0.02,"y":-0.5},{"x":0.12,"y":-0.5},{"x":0.22,"y":-0.5},{"x":0.32,"y":-0.5},{"x":0.42,"y":-0.5},{"x":0.52,"y":-0.5},{"x":0.62,"y":-0.5},{"x":0.75,"y":-0.5},{"x":0.9,"y":-0.5},{"x":1.05,"y":-0.5},{"x":1.22,"y":-0.5},{"x":1.4,"y":-0.5},{"x":1.6,"y":-0.5},{"x":1.95,"y":-0.5},
{"x":-1.85,"y":-0.68},{"x":-1.45,"y":-0.68},{"x":-1.22,"y":-0.68},{"x":-1.07,"y":-0.68},{"x":-0.92,"y":-0.68},{"x":-0.78,"y":-0.68},{"x":-0.65,"y":-0.68},{"x":-0.52,"y":-0.68},{"x":-0.38,"y":-0.68},{"x":-0.25,"y":-0.68},{"x":-0.12,"y":-0.68},{"x":0.02,"y":-0.68},{"x":0.15,"y":-0.68},{"x":0.28,"y":-0.68},{"x":0.42,"y":-0.68},{"x":0.55,"y":-0.68},{"x":0.68,"y":-0.68},{"x":0.82,"y":-0.68},{"x":0.97,"y":-0.68},{"x":1.12,"y":-0.68},{"x":1.3,"y":-0.68},{"x":1.55,"y":-0.68},
{"x":-1.1,"y":-1.0},{"x":-0.9,"y":-1.0},{"x":-0.7,"y":-1.0},{"x":-0.5,"y":-1.0},{"x":-0.3,"y":-1.0},{"x":-0.1,"y":-1.0},{"x":0.1,"y":-1.0},{"x":0.3,"y":-1.0},{"x":0.5,"y":-1.0},{"x":0.7,"y":-1.0},{"x":0.9,"y":-1.0}
],
"g":[
{"x":-1.5,"y":2.24},{"x":-1.35,"y":2.24},{"x":-1.1,"y":2.24},{"x":-0.95,"y":2.24},{"x":-0.8,"y":2.24},{"x":-0.65,"y":2.24},{"x":-0.5,"y":2.24},{"x":-0.35,"y":2.24},{"x":-0.2,"y":2.24},{"x":-0.05,"y":2.24},{"x":0.1,"y":2.24},{"x":0.25,"y":2.24},{"x":0.4,"y":2.24},{"x":0.55,"y":2.24},{"x":0.7,"y":2.24},{"x":1.35,"y":2.24},{"x":1.55,"y":2.24},{"x":1.8,"y":2.24},{"x":2.1,"y":2.24},{"x":2.4,"y":2.24},
{"x":-1.6,"y":2.0},{"x":-1.4,"y":2.0},{"x":-1.2,"y":2.0},{"x":-1.05,"y":2.0},{"x":-0.9,"y":2.0},{"x":-0.75,"y":2.0},{"x":-0.6,"y":2.0},{"x":-0.45,"y":2.0},{"x":-0.3,"y":2.0},{"x":-0.15,"y":2.0},{"x":0.0,"y":2.0},{"x":0.15,"y":2.0},{"x":0.3,"y":2.0},{"x":0.45,"y":2.0},{"x":0.6,"y":2.0},{"x":0.75,"y":2.0},{"x":0.9,"y":2.0},{"x":1.05,"y":2.0},{"x":1.3,"y":2.0},{"x":1.5,"y":2.0},{"x":2.0,"y":2.0},
{"x":-1.85,"y":1.76},{"x":-1.6,"y":1.76},{"x":-1.4,"y":1.76},{"x":-1.2,"y":1.76},{"x":-1.05,"y":1.76},{"x":-0.9,"y":1.76},{"x":-0.75,"y":1.76},{"x":-0.6,"y":1.76},{"x":-0.45,"y":1.76},{"x":-0.3,"y":1.76},{"x":-0.15,"y":1.76},{"x":0.0,"y":1.76},{"x":0.15,"y":1.76},{"x":0.3,"y":1.76},{"x":0.45,"y":1.76},{"x":0.6,"y":1.76},{"x":0.75,"y":1.76},{"x":0.9,"y":1.76},{"x":1.1,"y":1.76},{"x":1.35,"y":1.76},{"x":1.6,"y":1.76},{"x":1.9,"y":1.76},
{"x":-2.0,"y":1.53},{"x":-1.75,"y":1.53},{"x":-1.55,"y":1.53},{"x":-1.35,"y":1.53},{"x":-1.15,"y":1.53},{"x":-1.0,"y":1.53},{"x":-0.85,"y":1.53},{"x":-0.7,"y":1.53},{"x":-0.55,"y":1.53},{"x":-0.4,"y":1.53},{"x":-0.25,"y":1.53},{"x":-0.1,"y":1.53},{"x":0.05,"y":1.53},{"x":0.2,"y":1.53},{"x":0.35,"y":1.53},{"x":0.5,"y":1.53},{"x":0.65,"y":1.53},{"x":0.8,"y":1.53},{"x":0.95,"y":1.53},{"x":1.15,"y":1.53},{"x":1.35,"y":1.53},{"x":1.55,"y":1.53},{"x":1.8,"y":1.53},{"x":2.05,"y":1.53},{"x":2.4,"y":1.53},{"x":2.8,"y":1.53},{"x":3.05,"y":1.53},
{"x":-1.95,"y":1.32},{"x":-1.7,"y":1.32},{"x":-1.5,"y":1.32},{"x":-1.3,"y":1.32},{"x":-1.15,"y":1.32},{"x":-1.0,"y":1.32},{"x":-0.85,"y":1.32},{"x":-0.7,"y":1.32},{"x":-0.55,"y":1.32},{"x":-0.4,"y":1.32},{"x":-0.25,"y":1.32},{"x":-0.1,"y":1.32},{"x":0.05,"y":1.32},{"x":0.2,"y":1.32},{"x":0.35,"y":1.32},{"x":0.5,"y":1.32},{"x":0.65,"y":1.32},{"x":0.8,"y":1.32},{"x":1.0,"y":1.32},{"x":1.2,"y":1.32},{"x":1.45,"y":1.32},{"x":1.7,"y":1.32},{"x":2.0,"y":1.32},{"x":2.3,"y":1.32},{"x":2.6,"y":1.32},
{"x":-1.9,"y":1.07},{"x":-1.7,"y":1.07},{"x":-1.5,"y":1.07},{"x":-1.3,"y":1.07},{"x":-1.15,"y":1.07},{"x":-1.0,"y":1.07},{"x":-0.85,"y":1.07},{"x":-0.7,"y":1.07},{"x":-0.55,"y":1.07},{"x":-0.4,"y":1.07},{"x":-0.25,"y":1.07},{"x":-0.1,"y":1.07},{"x":0.05,"y":1.07},{"x":0.2,"y":1.07},{"x":0.35,"y":1.07},{"x":0.5,"y":1.07},{"x":0.65,"y":1.07},{"x":0.8,"y":1.07},{"x":0.95,"y":1.07},{"x":1.15,"y":1.07},{"x":1.35,"y":1.07},{"x":1.55,"y":1.07},{"x":1.75,"y":1.07},{"x":2.0,"y":1.07},{"x":2.3,"y":1.07},{"x":2.6,"y":1.07},{"x":2.9,"y":1.07},
{"x":-3.2,"y":0.88},{"x":-2.95,"y":0.88},{"x":-2.7,"y":0.88},{"x":-2.3,"y":0.88},{"x":-2.1,"y":0.88},{"x":-1.9,"y":0.88},{"x":-1.7,"y":0.88},{"x":-1.5,"y":0.88},{"x":-1.35,"y":0.88},{"x":-1.2,"y":0.88},{"x":-1.05,"y":0.88},{"x":-0.9,"y":0.88},{"x":-0.75,"y":0.88},{"x":-0.6,"y":0.88},{"x":-0.45,"y":0.88},{"x":-0.3,"y":0.88},{"x":-0.15,"y":0.88},{"x":0.0,"y":0.88},{"x":0.15,"y":0.88},{"x":0.3,"y":0.88},{"x":0.45,"y":0.88},{"x":0.6,"y":0.88},{"x":0.75,"y":0.88},{"x":0.9,"y":0.88},{"x":1.05,"y":0.88},{"x":1.2,"y":0.88},{"x":1.4,"y":0.88},{"x":1.6,"y":0.88},{"x":1.85,"y":0.88},{"x":2.1,"y":0.88},{"x":2.4,"y":0.88},{"x":2.7,"y":0.88},{"x":3.0,"y":0.88},{"x":3.3,"y":0.88},{"x":3.6,"y":0.88},
{"x":-2.05,"y":0.5},{"x":-1.8,"y":0.5},{"x":-1.6,"y":0.5},{"x":-1.45,"y":0.5},{"x":-1.3,"y":0.5},{"x":-1.2,"y":0.5},{"x":-1.1,"y":0.5},{"x":-1.0,"y":0.5},{"x":-0.9,"y":0.5},{"x":-0.8,"y":0.5},{"x":-0.7,"y":0.5},{"x":-0.6,"y":0.5},{"x":-0.5,"y":0.5},{"x":-0.4,"y":0.5},{"x":-0.3,"y":0.5},{"x":-0.2,"y":0.5},{"x":-0.1,"y":0.5},{"x":0.0,"y":0.5},{"x":0.1,"y":0.5},{"x":0.2,"y":0.5},{"x":0.3,"y":0.5},{"x":0.4,"y":0.5},{"x":0.5,"y":0.5},{"x":0.6,"y":0.5},{"x":0.7,"y":0.5},{"x":0.85,"y":0.5},{"x":1.0,"y":0.5},{"x":1.15,"y":0.5},{"x":1.35,"y":0.5},{"x":1.55,"y":0.5},{"x":1.75,"y":0.5},{"x":2.0,"y":0.5},{"x":2.3,"y":0.5},{"x":2.6,"y":0.5},{"x":2.9,"y":0.5},{"x":3.25,"y":0.5},
{"x":-2.2,"y":0.26},{"x":-1.95,"y":0.26},{"x":-1.75,"y":0.26},{"x":-1.6,"y":0.26},{"x":-1.45,"y":0.26},{"x":-1.3,"y":0.26},{"x":-1.2,"y":0.26},{"x":-1.1,"y":0.26},{"x":-1.0,"y":0.26},{"x":-0.9,"y":0.26},{"x":-0.8,"y":0.26},{"x":-0.7,"y":0.26},{"x":-0.6,"y":0.26},{"x":-0.5,"y":0.26},{"x":-0.4,"y":0.26},{"x":-0.3,"y":0.26},{"x":-0.2,"y":0.26},{"x":-0.1,"y":0.26},{"x":0.0,"y":0.26},{"x":0.1,"y":0.26},{"x":0.2,"y":0.26},{"x":0.3,"y":0.26},{"x":0.45,"y":0.26},{"x":0.6,"y":0.26},{"x":0.75,"y":0.26},{"x":0.9,"y":0.26},{"x":1.05,"y":0.26},{"x":1.25,"y":0.26},{"x":1.45,"y":0.26},{"x":1.7,"y":0.26},{"x":1.95,"y":0.26},{"x":2.25,"y":0.26},{"x":2.6,"y":0.26},
{"x":-2.25,"y":0.03},{"x":-2.0,"y":0.03},{"x":-1.8,"y":0.03},{"x":-1.6,"y":0.03},{"x":-1.45,"y":0.03},{"x":-1.3,"y":0.03},{"x":-1.2,"y":0.03},{"x":-1.1,"y":0.03},{"x":-1.0,"y":0.03},{"x":-0.9,"y":0.03},{"x":-0.8,"y":0.03},{"x":-0.7,"y":0.03},{"x":-0.6,"y":0.03},{"x":-0.5,"y":0.03},{"x":-0.4,"y":0.03},{"x":-0.3,"y":0.03},{"x":-0.2,"y":0.03},{"x":-0.1,"y":0.03},{"x":0.0,"y":0.03},{"x":0.1,"y":0.03},{"x":0.2,"y":0.03},{"x":0.35,"y":0.03},{"x":0.5,"y":0.03},{"x":0.65,"y":0.03},{"x":0.8,"y":0.03},{"x":0.95,"y":0.03},{"x":1.1,"y":0.03},{"x":1.3,"y":0.03},{"x":1.5,"y":0.03},{"x":1.75,"y":0.03},{"x":2.0,"y":0.03},{"x":2.3,"y":0.03},
{"x":-2.3,"y":-0.2},{"x":-2.05,"y":-0.2},{"x":-1.85,"y":-0.2},{"x":-1.65,"y":-0.2},{"x":-1.45,"y":-0.2},{"x":-1.3,"y":-0.2},{"x":-1.15,"y":-0.2},{"x":-1.05,"y":-0.2},{"x":-0.95,"y":-0.2},{"x":-0.85,"y":-0.2},{"x":-0.75,"y":-0.2},{"x":-0.65,"y":-0.2},{"x":-0.55,"y":-0.2},{"x":-0.45,"y":-0.2},{"x":-0.35,"y":-0.2},{"x":-0.25,"y":-0.2},{"x":-0.15,"y":-0.2},{"x":-0.05,"y":-0.2},{"x":0.05,"y":-0.2},{"x":0.2,"y":-0.2},{"x":0.35,"y":-0.2},{"x":0.5,"y":-0.2},{"x":0.65,"y":-0.2},{"x":0.8,"y":-0.2},{"x":0.95,"y":-0.2},{"x":1.15,"y":-0.2},{"x":1.35,"y":-0.2},{"x":1.6,"y":-0.2},{"x":1.85,"y":-0.2},{"x":2.1,"y":-0.2},{"x":2.4,"y":-0.2},
{"x":-2.1,"y":-0.43},{"x":-1.85,"y":-0.43},{"x":-1.6,"y":-0.43},{"x":-1.4,"y":-0.43},{"x":-1.25,"y":-0.43},{"x":-1.1,"y":-0.43},{"x":-0.95,"y":-0.43},{"x":-0.85,"y":-0.43},{"x":-0.75,"y":-0.43},{"x":-0.65,"y":-0.43},{"x":-0.55,"y":-0.43},{"x":-0.45,"y":-0.43},{"x":-0.35,"y":-0.43},{"x":-0.25,"y":-0.43},{"x":-0.15,"y":-0.43},{"x":-0.05,"y":-0.43},{"x":0.05,"y":-0.43},{"x":0.15,"y":-0.43},{"x":0.3,"y":-0.43},{"x":0.45,"y":-0.43},{"x":0.6,"y":-0.43},{"x":0.75,"y":-0.43},{"x":0.9,"y":-0.43},{"x":1.05,"y":-0.43},{"x":1.25,"y":-0.43},{"x":1.5,"y":-0.43},{"x":1.8,"y":-0.43},{"x":2.2,"y":-0.43},{"x":2.5,"y":-0.43},
{"x":-3.1,"y":-0.59},{"x":-2.6,"y":-0.59},{"x":-2.2,"y":-0.59},{"x":-1.9,"y":-0.59},{"x":-1.65,"y":-0.59},{"x":-1.45,"y":-0.59},{"x":-1.3,"y":-0.59},{"x":-1.15,"y":-0.59},{"x":-1.0,"y":-0.59},{"x":-0.85,"y":-0.59},{"x":-0.7,"y":-0.59},{"x":-0.6,"y":-0.59},{"x":-0.5,"y":-0.59},{"x":-0.4,"y":-0.59},{"x":-0.3,"y":-0.59},{"x":-0.2,"y":-0.59},{"x":-0.1,"y":-0.59},{"x":0.0,"y":-0.59},{"x":0.15,"y":-0.59},{"x":0.3,"y":-0.59},{"x":0.45,"y":-0.59},{"x":0.6,"y":-0.59},{"x":0.75,"y":-0.59},{"x":0.9,"y":-0.59},{"x":1.05,"y":-0.59},{"x":1.2,"y":-0.59},{"x":1.4,"y":-0.59},{"x":1.65,"y":-0.59},{"x":1.9,"y":-0.59},{"x":2.2,"y":-0.59},{"x":2.5,"y":-0.59},{"x":3.1,"y":-0.59},{"x":3.3,"y":-0.59},
{"x":-2.7,"y":-0.79},{"x":-2.45,"y":-0.79},{"x":-2.1,"y":-0.79},{"x":-1.85,"y":-0.79},{"x":-1.6,"y":-0.79},{"x":-1.4,"y":-0.79},{"x":-1.2,"y":-0.79},{"x":-1.05,"y":-0.79},{"x":-0.9,"y":-0.79},{"x":-0.75,"y":-0.79},{"x":-0.6,"y":-0.79},{"x":-0.45,"y":-0.79},{"x":-0.3,"y":-0.79},{"x":-0.15,"y":-0.79},{"x":0.0,"y":-0.79},{"x":0.15,"y":-0.79},{"x":0.3,"y":-0.79},{"x":0.45,"y":-0.79},{"x":0.6,"y":-0.79},{"x":0.75,"y":-0.79},{"x":0.9,"y":-0.79},{"x":1.1,"y":-0.79},{"x":1.3,"y":-0.79},{"x":1.55,"y":-0.79},{"x":1.85,"y":-0.79},{"x":2.1,"y":-0.79},{"x":2.6,"y":-0.79},
{"x":-1.4,"y":-1.2},{"x":-1.15,"y":-1.2},{"x":-0.9,"y":-1.2},{"x":-0.65,"y":-1.2},{"x":-0.4,"y":-1.2},{"x":-0.15,"y":-1.2},{"x":0.1,"y":-1.2},{"x":0.35,"y":-1.2},{"x":0.6,"y":-1.2},{"x":0.85,"y":-1.2},{"x":1.1,"y":-1.2},{"x":1.4,"y":-1.2},
{"x":-2.65,"y":-1.52},{"x":-2.25,"y":-1.52},{"x":-1.95,"y":-1.52},{"x":-1.6,"y":-1.52},{"x":-1.4,"y":-1.52},{"x":-1.2,"y":-1.52},{"x":-1.0,"y":-1.52},{"x":-0.85,"y":-1.52},{"x":-0.7,"y":-1.52},{"x":-0.55,"y":-1.52},{"x":-0.4,"y":-1.52},{"x":-0.25,"y":-1.52},{"x":-0.1,"y":-1.52},{"x":0.05,"y":-1.52},{"x":0.2,"y":-1.52},{"x":0.35,"y":-1.52},{"x":0.5,"y":-1.52},{"x":0.65,"y":-1.52},{"x":0.8,"y":-1.52},{"x":0.95,"y":-1.52},{"x":1.15,"y":-1.52},{"x":1.35,"y":-1.52},{"x":1.6,"y":-1.52},{"x":1.9,"y":-1.52},{"x":2.1,"y":-1.52},{"x":2.55,"y":-1.52},{"x":2.75,"y":-1.52},
{"x":-1.15,"y":-2.01},{"x":-0.95,"y":-2.01},{"x":-0.75,"y":-2.01},{"x":-0.55,"y":-2.01},{"x":-0.4,"y":-2.01},{"x":-0.25,"y":-2.01},{"x":-0.1,"y":-2.01},{"x":0.05,"y":-2.01},{"x":0.2,"y":-2.01},{"x":0.4,"y":-2.01},{"x":1.25,"y":-2.01},{"x":1.35,"y":-2.01},{"x":1.65,"y":-2.01},
{"x":-2.3,"y":0.7},{"x":-1.85,"y":0.7},{"x":-1.55,"y":0.7},{"x":-1.35,"y":0.7},{"x":-1.2,"y":0.7},{"x":-1.05,"y":0.7},{"x":-0.9,"y":0.7},{"x":-0.75,"y":0.7},{"x":-0.6,"y":0.7},{"x":-0.45,"y":0.7},{"x":-0.3,"y":0.7},{"x":-0.15,"y":0.7},{"x":0.0,"y":0.7},{"x":0.15,"y":0.7},{"x":0.3,"y":0.7},{"x":0.45,"y":0.7},{"x":0.6,"y":0.7},{"x":0.75,"y":0.7},{"x":0.9,"y":0.7},{"x":1.05,"y":0.7},{"x":1.25,"y":0.7},{"x":1.5,"y":0.7},{"x":1.8,"y":0.7},{"x":2.2,"y":0.7},{"x":2.7,"y":0.7},{"x":3.2,"y":0.7},
{"x":-1.92,"y":0.38},{"x":-1.52,"y":0.38},{"x":-1.37,"y":0.38},{"x":-1.25,"y":0.38},{"x":-1.15,"y":0.38},{"x":-1.05,"y":0.38},{"x":-0.95,"y":0.38},{"x":-0.85,"y":0.38},{"x":-0.75,"y":0.38},{"x":-0.65,"y":0.38},{"x":-0.55,"y":0.38},{"x":-0.45,"y":0.38},{"x":-0.35,"y":0.38},{"x":-0.25,"y":0.38},{"x":-0.15,"y":0.38},{"x":-0.05,"y":0.38},{"x":0.05,"y":0.38},{"x":0.15,"y":0.38},{"x":0.27,"y":0.38},{"x":0.4,"y":0.38},{"x":0.55,"y":0.38},{"x":0.7,"y":0.38},{"x":0.85,"y":0.38},{"x":1.0,"y":0.38},{"x":1.2,"y":0.38},{"x":1.42,"y":0.38},{"x":1.65,"y":0.38},{"x":1.95,"y":0.38},{"x":2.4,"y":0.38},
{"x":-2.1,"y":0.15},{"x":-1.67,"y":0.15},{"x":-1.52,"y":0.15},{"x":-1.37,"y":0.15},{"x":-1.25,"y":0.15},{"x":-1.15,"y":0.15},{"x":-1.05,"y":0.15},{"x":-0.95,"y":0.15},{"x":-0.85,"y":0.15},{"x":-0.75,"y":0.15},{"x":-0.65,"y":0.15},{"x":-0.55,"y":0.15},{"x":-0.45,"y":0.15},{"x":-0.35,"y":0.15},{"x":-0.25,"y":0.15},{"x":-0.15,"y":0.15},{"x":-0.05,"y":0.15},{"x":0.05,"y":0.15},{"x":0.15,"y":0.15},{"x":0.27,"y":0.15},{"x":0.4,"y":0.15},{"x":0.55,"y":0.15},{"x":0.7,"y":0.15},{"x":0.85,"y":0.15},{"x":1.0,"y":0.15},{"x":1.18,"y":0.15},{"x":1.4,"y":0.15},{"x":1.62,"y":0.15},{"x":1.9,"y":0.15},{"x":2.2,"y":0.15},
{"x":-1.95,"y":-0.08},{"x":-1.55,"y":-0.08},{"x":-1.37,"y":-0.08},{"x":-1.25,"y":-0.08},{"x":-1.15,"y":-0.08},{"x":-1.05,"y":-0.08},{"x":-0.95,"y":-0.08},{"x":-0.85,"y":-0.08},{"x":-0.75,"y":-0.08},{"x":-0.65,"y":-0.08},{"x":-0.55,"y":-0.08},{"x":-0.45,"y":-0.08},{"x":-0.35,"y":-0.08},{"x":-0.25,"y":-0.08},{"x":-0.15,"y":-0.08},{"x":-0.05,"y":-0.08},{"x":0.05,"y":-0.08},{"x":0.15,"y":-0.08},{"x":0.27,"y":-0.08},{"x":0.4,"y":-0.08},{"x":0.55,"y":-0.08},{"x":0.7,"y":-0.08},{"x":0.85,"y":-0.08},{"x":1.0,"y":-0.08},{"x":1.2,"y":-0.08},{"x":1.42,"y":-0.08},{"x":1.7,"y":-0.08},{"x":2.0,"y":-0.08},
{"x":-2.0,"y":-0.32},{"x":-1.57,"y":-0.32},{"x":-1.37,"y":-0.32},{"x":-1.22,"y":-0.32},{"x":-1.1,"y":-0.32},{"x":-1.0,"y":-0.32},{"x":-0.9,"y":-0.32},{"x":-0.8,"y":-0.32},{"x":-0.7,"y":-0.32},{"x":-0.6,"y":-0.32},{"x":-0.5,"y":-0.32},{"x":-0.4,"y":-0.32},{"x":-0.3,"y":-0.32},{"x":-0.2,"y":-0.32},{"x":-0.1,"y":-0.32},{"x":0.0,"y":-0.32},{"x":0.1,"y":-0.32},{"x":0.22,"y":-0.32},{"x":0.37,"y":-0.32},{"x":0.52,"y":-0.32},{"x":0.67,"y":-0.32},{"x":0.82,"y":-0.32},{"x":0.97,"y":-0.32},{"x":1.15,"y":-0.32},{"x":1.4,"y":-0.32},{"x":1.68,"y":-0.32},{"x":2.05,"y":-0.32},
{"x":-2.4,"y":-0.5},{"x":-1.75,"y":-0.5},{"x":-1.52,"y":-0.5},{"x":-1.37,"y":-0.5},{"x":-1.22,"y":-0.5},{"x":-1.1,"y":-0.5},{"x":-1.0,"y":-0.5},{"x":-0.9,"y":-0.5},{"x":-0.8,"y":-0.5},{"x":-0.7,"y":-0.5},{"x":-0.6,"y":-0.5},{"x":-0.5,"y":-0.5},{"x":-0.4,"y":-0.5},{"x":-0.3,"y":-0.5},{"x":-0.2,"y":-0.5},{"x":-0.1,"y":-0.5},{"x":0.0,"y":-0.5},{"x":0.1,"y":-0.5},{"x":0.22,"y":-0.5},{"x":0.37,"y":-0.5},{"x":0.52,"y":-0.5},{"x":0.67,"y":-0.5},{"x":0.82,"y":-0.5},{"x":0.97,"y":-0.5},{"x":1.12,"y":-0.5},{"x":1.3,"y":-0.5},{"x":1.52,"y":-0.5},{"x":1.78,"y":-0.5},{"x":2.05,"y":-0.5},
{"x":-2.2,"y":-0.68},{"x":-1.75,"y":-0.68},{"x":-1.5,"y":-0.68},{"x":-1.32,"y":-0.68},{"x":-1.17,"y":-0.68},{"x":-1.02,"y":-0.68},{"x":-0.88,"y":-0.68},{"x":-0.75,"y":-0.68},{"x":-0.62,"y":-0.68},{"x":-0.48,"y":-0.68},{"x":-0.35,"y":-0.68},{"x":-0.22,"y":-0.68},{"x":-0.08,"y":-0.68},{"x":0.05,"y":-0.68},{"x":0.18,"y":-0.68},{"x":0.32,"y":-0.68},{"x":0.45,"y":-0.68},{"x":0.6,"y":-0.68},{"x":0.75,"y":-0.68},{"x":0.9,"y":-0.68},{"x":1.05,"y":-0.68},{"x":1.22,"y":-0.68},{"x":1.45,"y":-0.68},{"x":1.72,"y":-0.68},{"x":2.0,"y":-0.68},
{"x":-1.5,"y":-1.0},{"x":-1.25,"y":-1.0},{"x":-1.0,"y":-1.0},{"x":-0.75,"y":-1.0},{"x":-0.5,"y":-1.0},{"x":-0.25,"y":-1.0},{"x":0.0,"y":-1.0},{"x":0.25,"y":-1.0},{"x":0.5,"y":-1.0},{"x":0.75,"y":-1.0},{"x":1.0,"y":-1.0},{"x":1.3,"y":-1.0},{"x":1.7,"y":-1.0}
],
"b":[
{"x":-1.89,"y":1.12},{"x":-1.7,"y":1.28},{"x":-1.66,"y":0.75},{"x":-1.72,"y":0.03},{"x":-1.56,"y":0.05},{"x":-1.57,"y":-0.65},{"x":-1.3,"y":1.16},{"x":-1.28,"y":-1.39},{"x":-1.07,"y":0.23},{"x":-1.04,"y":-0.15},{"x":-1.07,"y":-0.66},{"x":-1.02,"y":1.25},{"x":-0.94,"y":0.79},{"x":-0.92,"y":0.72},{"x":-0.9,"y":1.23},{"x":-0.86,"y":0.0},{"x":-0.81,"y":0.0},{"x":-0.72,"y":0.0},{"x":-0.83,"y":0.91},{"x":-0.68,"y":-0.28},{"x":-0.67,"y":1.02},{"x":-0.65,"y":0.71},{"x":-0.67,"y":0.65},{"x":-0.63,"y":1.73},{"x":-0.87,"y":-1.73},{"x":-0.74,"y":-1.11},{"x":-0.68,"y":-0.95},{"x":-0.55,"y":0.06},{"x":-0.5,"y":1.22},{"x":-0.46,"y":1.37},{"x":-0.45,"y":0.78},{"x":-0.44,"y":-0.35},{"x":-0.39,"y":-0.58},{"x":-0.41,"y":0.34},{"x":-0.42,"y":3.25},{"x":-0.33,"y":-1.97},{"x":-0.46,"y":-2.52},{"x":-0.36,"y":-2.59},{"x":-0.29,"y":-0.51},{"x":-0.23,"y":1.82},{"x":-0.17,"y":2.03},{"x":-0.16,"y":1.82},{"x":-0.11,"y":-0.58},{"x":-0.09,"y":1.22},{"x":-0.08,"y":-1.56},{"x":-0.07,"y":0.06},{"x":-0.03,"y":0.0},{"x":0.0,"y":0.08},{"x":0.01,"y":-0.08},{"x":0.0,"y":1.57},{"x":-0.03,"y":-2.14},{"x":0.03,"y":1.02},{"x":0.04,"y":-0.78},{"x":0.08,"y":-0.22},{"x":0.11,"y":-1.33},{"x":0.18,"y":-0.55},{"x":0.2,"y":-0.31},{"x":0.21,"y":-0.78},{"x":0.23,"y":1.33},{"x":0.25,"y":2.97},{"x":0.33,"y":2.28},{"x":0.38,"y":1.74},{"x":0.38,"y":-0.82},{"x":0.42,"y":-0.48},{"x":0.46,"y":-1.39},{"x":0.48,"y":-1.54},{"x":0.58,"y":-0.31},{"x":0.63,"y":1.68},{"x":0.66,"y":-2.02},{"x":0.72,"y":1.54},{"x":0.72,"y":0.22},{"x":0.73,"y":-1.02},{"x":0.76,"y":-1.42},{"x":0.92,"y":2.59},{"x":0.91,"y":0.22},{"x":0.96,"y":-0.6},{"x":0.97,"y":0.74},{"x":1.2,"y":-0.52},{"x":1.2,"y":-0.71},{"x":1.37,"y":-0.6},{"x":1.39,"y":0.17},{"x":1.52,"y":3.31},{"x":1.54,"y":-2.34},{"x":1.68,"y":0.38},{"x":1.7,"y":-0.62},{"x":1.97,"y":-0.23},{"x":1.97,"y":-1.39},{"x":2.53,"y":-0.8},{"x":3.6,"y":-2.46}
],
"f":[
{"x":-2.32,"y":0.34},{"x":-2.03,"y":0.0},{"x":-1.68,"y":1.36},{"x":-1.5,"y":0.39},{"x":-1.41,"y":0.08},{"x":-1.38,"y":-0.31},{"x":-1.78,"y":-1.02},{"x":-1.8,"y":-1.54},{"x":-1.25,"y":1.85},{"x":-1.23,"y":1.25},{"x":-1.15,"y":-0.62},{"x":-1.12,"y":-2.45},{"x":-1.06,"y":-0.29},{"x":-1.02,"y":-0.51},{"x":-1.02,"y":2.31},{"x":-1.01,"y":1.39},{"x":-1.01,"y":-2.35},{"x":-0.93,"y":-1.98},{"x":-0.91,"y":-1.42},{"x":-0.73,"y":-1.34},{"x":-0.71,"y":-2.16},{"x":-0.61,"y":-0.59},{"x":-0.59,"y":-1.39},{"x":-0.59,"y":0.8},{"x":-0.56,"y":0.93},{"x":-0.57,"y":-0.39},{"x":-0.57,"y":1.73},{"x":-0.52,"y":-0.79},{"x":-0.45,"y":-0.74},{"x":-0.44,"y":-0.82},{"x":-0.41,"y":2.04},{"x":-0.32,"y":0.22},{"x":-0.32,"y":1.22},{"x":-0.31,"y":-0.51},{"x":-0.24,"y":0.76},{"x":-0.22,"y":2.59},{"x":-0.22,"y":-0.62},{"x":-0.22,"y":-2.04},{"x":-0.11,"y":3.26},{"x":-0.1,"y":1.56},{"x":-0.09,"y":1.03},{"x":-0.11,"y":-1.11},{"x":-0.04,"y":0.22},{"x":0.0,"y":-0.77},{"x":0.03,"y":-2.53},{"x":0.04,"y":-0.19},{"x":0.08,"y":0.17},{"x":0.09,"y":0.03},{"x":0.09,"y":-1.37},{"x":0.15,"y":-1.73},{"x":0.21,"y":-0.79},{"x":0.22,"y":-0.62},{"x":0.27,"y":0.23},{"x":0.29,"y":-0.54},{"x":0.31,"y":-1.57},{"x":0.38,"y":1.22},{"x":0.45,"y":2.99},{"x":0.47,"y":0.08},{"x":0.47,"y":-0.62},{"x":0.5,"y":-0.65},{"x":0.49,"y":-0.22},{"x":0.57,"y":1.53},{"x":0.61,"y":0.73},{"x":0.62,"y":-0.94},{"x":0.68,"y":1.14},{"x":0.68,"y":3.32},{"x":0.71,"y":0.66},{"x":0.73,"y":1.25},{"x":0.76,"y":0.74},{"x":0.78,"y":0.0},{"x":0.76,"y":-0.17},{"x":0.98,"y":1.76},{"x":0.99,"y":-0.03},{"x":1.04,"y":-0.29},{"x":1.07,"y":1.28},{"x":1.2,"y":0.0},{"x":1.25,"y":0.76},{"x":1.27,"y":1.03},{"x":1.27,"y":1.8},{"x":1.31,"y":0.03},{"x":1.31,"y":0.71},{"x":1.35,"y":-0.62},{"x":1.57,"y":1.68},{"x":1.69,"y":-0.66},{"x":1.76,"y":0.79},{"x":2.18,"y":1.13},{"x":2.28,"y":-1.39},{"x":2.63,"y":0.05}
],
"d":[
{"x":-2.16,"y":1.05},{"x":-1.79,"y":0.2},{"x":-1.59,"y":-0.15},{"x":-1.45,"y":-0.82},{"x":-1.42,"y":1.03},{"x":-1.42,"y":-1.42},{"x":-1.37,"y":0.17},{"x":-1.33,"y":0.53},{"x":-1.29,"y":-0.74},{"x":-1.26,"y":-0.08},{"x":-1.25,"y":-0.51},{"x":-1.12,"y":-0.23},{"x":-1.1,"y":-0.46},{"x":-1.0,"y":-0.63},{"x":-0.98,"y":0.83},{"x":-0.91,"y":-0.56},{"x":-0.87,"y":0.43},{"x":-0.86,"y":1.99},{"x":-0.83,"y":-0.31},{"x":-0.81,"y":-0.69},{"x":-0.8,"y":-1.65},{"x":-0.73,"y":0.96},{"x":-0.69,"y":-0.74},{"x":-0.68,"y":1.62},{"x":-0.65,"y":1.45},{"x":-0.62,"y":0.02},{"x":-0.57,"y":-0.77},{"x":-0.55,"y":0.31},{"x":-0.52,"y":1.81},{"x":-0.47,"y":-0.53},{"x":-0.46,"y":-0.93},{"x":-0.4,"y":-1.2},{"x":-0.38,"y":1.0},{"x":-0.38,"y":0.34},{"x":-0.37,"y":-0.8},{"x":-0.37,"y":-1.64},{"x":-0.33,"y":1.25},{"x":-0.29,"y":-0.08},{"x":-0.26,"y":-1.51},{"x":-0.3,"y":-2.01},{"x":-0.22,"y":1.96},{"x":-0.18,"y":-0.45},{"x":-0.14,"y":0.03},{"x":-0.08,"y":1.56},{"x":-0.06,"y":-0.45},{"x":-0.03,"y":-0.09},{"x":0.01,"y":-0.82},{"x":0.06,"y":0.82},{"x":0.07,"y":0.49},{"x":0.12,"y":0.79},{"x":0.15,"y":0.42},{"x":0.18,"y":0.48},{"x":0.2,"y":0.8},{"x":0.25,"y":-0.4},{"x":0.25,"y":-0.49},{"x":0.27,"y":0.53},{"x":0.28,"y":0.79},{"x":0.32,"y":-0.54},{"x":0.36,"y":-0.77},{"x":0.4,"y":0.43},{"x":0.44,"y":-1.41},{"x":0.53,"y":-1.17},{"x":0.54,"y":1.27},{"x":0.6,"y":0.56},{"x":0.7,"y":2.18},{"x":0.85,"y":-0.74},{"x":0.9,"y":0.74},{"x":0.95,"y":-0.82},{"x":0.98,"y":1.19},{"x":1.05,"y":2.25},{"x":1.07,"y":0.6},{"x":1.09,"y":0.36},{"x":1.14,"y":-0.08},{"x":1.17,"y":0.6},{"x":1.19,"y":-0.17},{"x":1.3,"y":0.11},{"x":1.46,"y":1.93},{"x":1.48,"y":-0.15},{"x":1.53,"y":0.03},{"x":1.55,"y":0.0},{"x":1.63,"y":0.37},{"x":1.68,"y":0.26},{"x":1.71,"y":0.29},{"x":1.79,"y":0.77},{"x":1.96,"y":0.43},{"x":2.4,"y":0.43},{"x":2.45,"y":0.53}
],
"h":[
{"x":-2.18,"y":0.83},{"x":-2.01,"y":1.07},{"x":-1.98,"y":0.8},{"x":-1.77,"y":-0.77},{"x":-1.58,"y":-1.51},{"x":-1.48,"y":0.06},{"x":-1.43,"y":0.79},{"x":-1.27,"y":-0.08},{"x":-1.16,"y":-0.31},{"x":-1.17,"y":-0.59},{"x":-1.13,"y":0.82},{"x":-1.11,"y":-0.46},{"x":-1.08,"y":-0.79},{"x":-0.99,"y":-0.4},{"x":-0.92,"y":0.32},{"x":-0.9,"y":-0.56},{"x":-0.89,"y":-0.82},{"x":-0.82,"y":-1.2},{"x":-0.76,"y":1.99},{"x":-0.75,"y":-0.8},{"x":-0.76,"y":-0.96},{"x":-0.72,"y":-0.22},{"x":-0.68,"y":1.45},{"x":-0.65,"y":1.81},{"x":-0.62,"y":-0.02},{"x":-0.61,"y":-0.09},{"x":-0.59,"y":-0.56},{"x":-0.55,"y":-1.64},{"x":-0.53,"y":1.27},{"x":-0.48,"y":-0.53},{"x":-0.48,"y":-0.77},{"x":-0.45,"y":0.26},{"x":-0.41,"y":0.0},{"x":-0.39,"y":0.32},{"x":-0.38,"y":-2.01},{"x":-0.35,"y":1.0},{"x":-0.34,"y":-1.17},{"x":-0.31,"y":0.19},{"x":-0.28,"y":0.0},{"x":-0.26,"y":-0.69},{"x":-0.15,"y":-1.65},{"x":-0.14,"y":0.36},{"x":-0.07,"y":1.96},{"x":-0.05,"y":0.45},{"x":-0.05,"y":-0.65},{"x":-0.03,"y":-0.71},{"x":0.03,"y":2.16},{"x":0.02,"y":0.6},{"x":0.04,"y":0.28},{"x":0.1,"y":-0.43},{"x":0.1,"y":-1.41},{"x":0.17,"y":-0.74},{"x":0.22,"y":1.62},{"x":0.22,"y":1.27},{"x":0.25,"y":0.54},{"x":0.29,"y":-0.17},{"x":0.32,"y":0.45},{"x":0.33,"y":0.39},{"x":0.39,"y":-0.15},{"x":0.43,"y":-1.41},{"x":0.46,"y":-0.15},{"x":0.5,"y":-0.51},{"x":0.55,"y":-0.54},{"x":0.59,"y":0.46},{"x":0.62,"y":-0.71},{"x":0.64,"y":2.27},{"x":0.64,"y":1.93},{"x":0.66,"y":0.14},{"x":0.73,"y":0.17},{"x":0.76,"y":-0.8},{"x":0.77,"y":0.62},{"x":0.83,"y":1.05},{"x":0.92,"y":1.2},{"x":0.92,"y":0.74},{"x":0.95,"y":0.42},{"x":0.98,"y":0.53},{"x":1.04,"y":0.42},{"x":1.08,"y":0.56},{"x":1.11,"y":-0.06},{"x":1.13,"y":0.8},{"x":1.29,"y":1.56},{"x":1.55,"y":-0.45},{"x":1.57,"y":0.54},{"x":1.73,"y":-0.51},{"x":1.8,"y":0.51},{"x":1.9,"y":-0.45},{"x":2.82,"y":0.96},{"x":3.15,"y":0.76}
]
},
"concat":[
{"title":"DJF NINO Gulf Coast Days","width":425,"height":173,"layer":[
{"data":{"name":"a"},"mark":"square","encoding":{"x":{"field":"x","type":"quantitative","title":null,"scale":{"domain":[-4,4],"nice":false,"zero":false},"axis":{"values":[-2,0,2,4]}},"y":{"field":"y","type":"quantitative","title":"Index Value","scale":{"domain":[-4,4],"nice":false,"zero":false},"axis":{"values":[-4,-2,0,2,4]}}}},
{"data":{"values":[{"v":-1.25},{"v":1.4}]},"mark":"rule","encoding":{"x":{"field":"v","type":"quantitative","title":null}}},
{"data":{"values":[{"h":1.04},{"h":-0.68}]},"mark":"rule","encoding":{"y":{"field":"h","type":"quantitative","title":"Index Value"}}},
{"data":{"values":[{"x":-3.75,"y":2.98,"t":"a."}]},"mark":"text","encoding":{"x":{"field":"x","type":"quantitative","title":null},"y":{"field":"y","type":"quantitative","title":"Index Value"},"text":{"field":"t"}}}
]},
{"title":"DJF NINO Alaska Days","width":421,"height":173,"layer":[
{"data":{"name":"e"},"mark":"square","encoding":{"x":{"field":"x","type":"quantitative","title":null,"scale":{"domain":[-4,4],"nice":false,"zero":false},"axis":{"values":[-2,0,2,4]}},"y":{"field":"y","type":"quantitative","title":"Index Value","scale":{"domain":[-4,4],"nice":false,"zero":false},"axis":{"values":[-4,-2,0,2,4]}}}},
{"data":{"values":[{"v":-1.4},{"v":1.27}]},"mark":"rule","encoding":{"x":{"field":"v","type":"quantitative","title":null}}},
{"data":{"values":[{"h":1.04},{"h":-0.68}]},"mark":"rule","encoding":{"y":{"field":"h","type":"quantitative","title":"Index Value"}}},
{"data":{"values":[{"x":-3.75,"y":2.98,"t":"e."}]},"mark":"text","encoding":{"x":{"field":"x","type":"quantitative","title":null},"y":{"field":"y","type":"quantitative","title":"Index Value"},"text":{"field":"t"}}}
]},
{"title":"DJF NINO Gulf Coast Months","width":425,"height":173,"layer":[
{"data":{"name":"b"},"mark":"square","encoding":{"x":{"field":"x","type":"quantitative","title":null,"scale":{"domain":[-4,4],"nice":false,"zero":false},"axis":{"values":[-2,0,2,4]}},"y":{"field":"y","type":"quantitative","title":"Index Value","scale":{"domain":[-4,4],"nice":false,"zero":false},"axis":{"values":[-4,-2,0,2,4]}}}},
{"data":{"values":[{"v":-1.08},{"v":1.4}]},"mark":"rule","encoding":{"x":{"field":"v","type":"quantitative","title":null}}},
{"data":{"values":[{"h":1.03},{"h":-0.69}]},"mark":"rule","encoding":{"y":{"field":"h","type":"quantitative","title":"Index Value"}}},
{"data":{"values":[{"x":-3.75,"y":2.98,"t":"b."}]},"mark":"text","encoding":{"x":{"field":"x","type":"quantitative","title":null},"y":{"field":"y","type":"quantitative","title":"Index Value"},"text":{"field":"t"}}}
]},
{"title":"DJF NINO Alaska Months","width":421,"height":173,"layer":[
{"data":{"name":"f"},"mark":"square","encoding":{"x":{"field":"x","type":"quantitative","title":null,"scale":{"domain":[-4,4],"nice":false,"zero":false},"axis":{"values":[-2,0,2,4]}},"y":{"field":"y","type":"quantitative","title":"Index Value","scale":{"domain":[-4,4],"nice":false,"zero":false},"axis":{"values":[-4,-2,0,2,4]}}}},
{"data":{"values":[{"v":-1.25},{"v":1.31}]},"mark":"rule","encoding":{"x":{"field":"v","type":"quantitative","title":null}}},
{"data":{"values":[{"h":1.03},{"h":-0.69}]},"mark":"rule","encoding":{"y":{"field":"h","type":"quantitative","title":"Index Value"}}},
{"data":{"values":[{"x":-3.75,"y":2.98,"t":"f."}]},"mark":"text","encoding":{"x":{"field":"x","type":"quantitative","title":null},"y":{"field":"y","type":"quantitative","title":"Index Value"},"text":{"field":"t"}}}
]},
{"title":"JJA NINO Gulf Coast Days","width":425,"height":173,"layer":[
{"data":{"name":"c"},"mark":"square","encoding":{"x":{"field":"x","type":"quantitative","title":null,"scale":{"domain":[-4,4],"nice":false,"zero":false},"axis":{"values":[-2,0,2,4]}},"y":{"field":"y","type":"quantitative","title":"Index Value","scale":{"domain":[-4,4],"nice":false,"zero":false},"axis":{"values":[-4,-2,0,2,4]}}}},
{"data":{"values":[{"v":-1.25},{"v":1.21}]},"mark":"rule","encoding":{"x":{"field":"v","type":"quantitative","title":null}}},
{"data":{"values":[{"h":0.73},{"h":-0.55}]},"mark":"rule","encoding":{"y":{"field":"h","type":"quantitative","title":"Index Value"}}},
{"data":{"values":[{"x":-3.75,"y":2.98,"t":"c."}]},"mark":"text","encoding":{"x":{"field":"x","type":"quantitative","title":null},"y":{"field":"y","type":"quantitative","title":"Index Value"},"text":{"field":"t"}}}
]},
{"title":"JJA NINO Alaska Days","width":421,"height":173,"layer":[
{"data":{"name":"g"},"mark":"square","encoding":{"x":{"field":"x","type":"quantitative","title":null,"scale":{"domain":[-4,4],"nice":false,"zero":false},"axis":{"values":[-2,0,2,4]}},"y":{"field":"y","type":"quantitative","title":"Index Value","scale":{"domain":[-4,4],"nice":false,"zero":false},"axis":{"values":[-4,-2,0,2,4]}}}},
{"data":{"values":[{"v":-1.2},{"v":1.35}]},"mark":"rule","encoding":{"x":{"field":"v","type":"quantitative","title":null}}},
{"data":{"values":[{"h":0.73},{"h":-0.55}]},"mark":"rule","encoding":{"y":{"field":"h","type":"quantitative","title":"Index Value"}}},
{"data":{"values":[{"x":-3.75,"y":2.98,"t":"g."}]},"mark":"text","encoding":{"x":{"field":"x","type":"quantitative","title":null},"y":{"field":"y","type":"quantitative","title":"Index Value"},"text":{"field":"t"}}}
]},
{"title":"JJA NINO Gulf Coast Months","width":425,"height":173,"layer":[
{"data":{"name":"d"},"mark":"square","encoding":{"x":{"field":"x","type":"quantitative","title":"T Anomalies (Standard Deviation)","scale":{"domain":[-4,4],"nice":false,"zero":false},"axis":{"values":[-2,0,2,4]}},"y":{"field":"y","type":"quantitative","title":"Index Value","scale":{"domain":[-4,4],"nice":false,"zero":false},"axis":{"values":[-4,-2,0,2,4]}}}},
{"data":{"values":[{"v":-1.28},{"v":1.52}]},"mark":"rule","encoding":{"x":{"field":"v","type":"quantitative","title":"T Anomalies (Standard Deviation)"}}},
{"data":{"values":[{"h":0.74},{"h":-0.54}]},"mark":"rule","encoding":{"y":{"field":"h","type":"quantitative","title":"Index Value"}}},
{"data":{"values":[{"x":-3.75,"y":2.98,"t":"d."}]},"mark":"text","encoding":{"x":{"field":"x","type":"quantitative","title":"T Anomalies (Standard Deviation)"},"y":{"field":"y","type":"quantitative","title":"Index Value"},"text":{"field":"t"}}}
]},
{"title":"JJA NINO Alaska Months","width":421,"height":173,"layer":[
{"data":{"name":"h"},"mark":"square","encoding":{"x":{"field":"x","type":"quantitative","title":"T Anomalies (Standard Deviation)","scale":{"domain":[-4,4],"nice":false,"zero":false},"axis":{"values":[-2,0,2,4]}},"y":{"field":"y","type":"quantitative","title":"Index Value","scale":{"domain":[-4,4],"nice":false,"zero":false},"axis":{"values":[-4,-2,0,2,4]}}}},
{"data":{"values":[{"v":-1.17},{"v":1.13}]},"mark":"rule","encoding":{"x":{"field":"v","type":"quantitative","title":"T Anomalies (Standard Deviation)"}}},
{"data":{"values":[{"h":0.74},{"h":-0.54}]},"mark":"rule","encoding":{"y":{"field":"h","type":"quantitative","title":"Index Value"}}},
{"data":{"values":[{"x":-3.75,"y":2.98,"t":"h."}]},"mark":"text","encoding":{"x":{"field":"x","type":"quantitative","title":"T Anomalies (Standard Deviation)"},"y":{"field":"y","type":"quantitative","title":"Index Value"},"text":{"field":"t"}}}
]}
]
}
